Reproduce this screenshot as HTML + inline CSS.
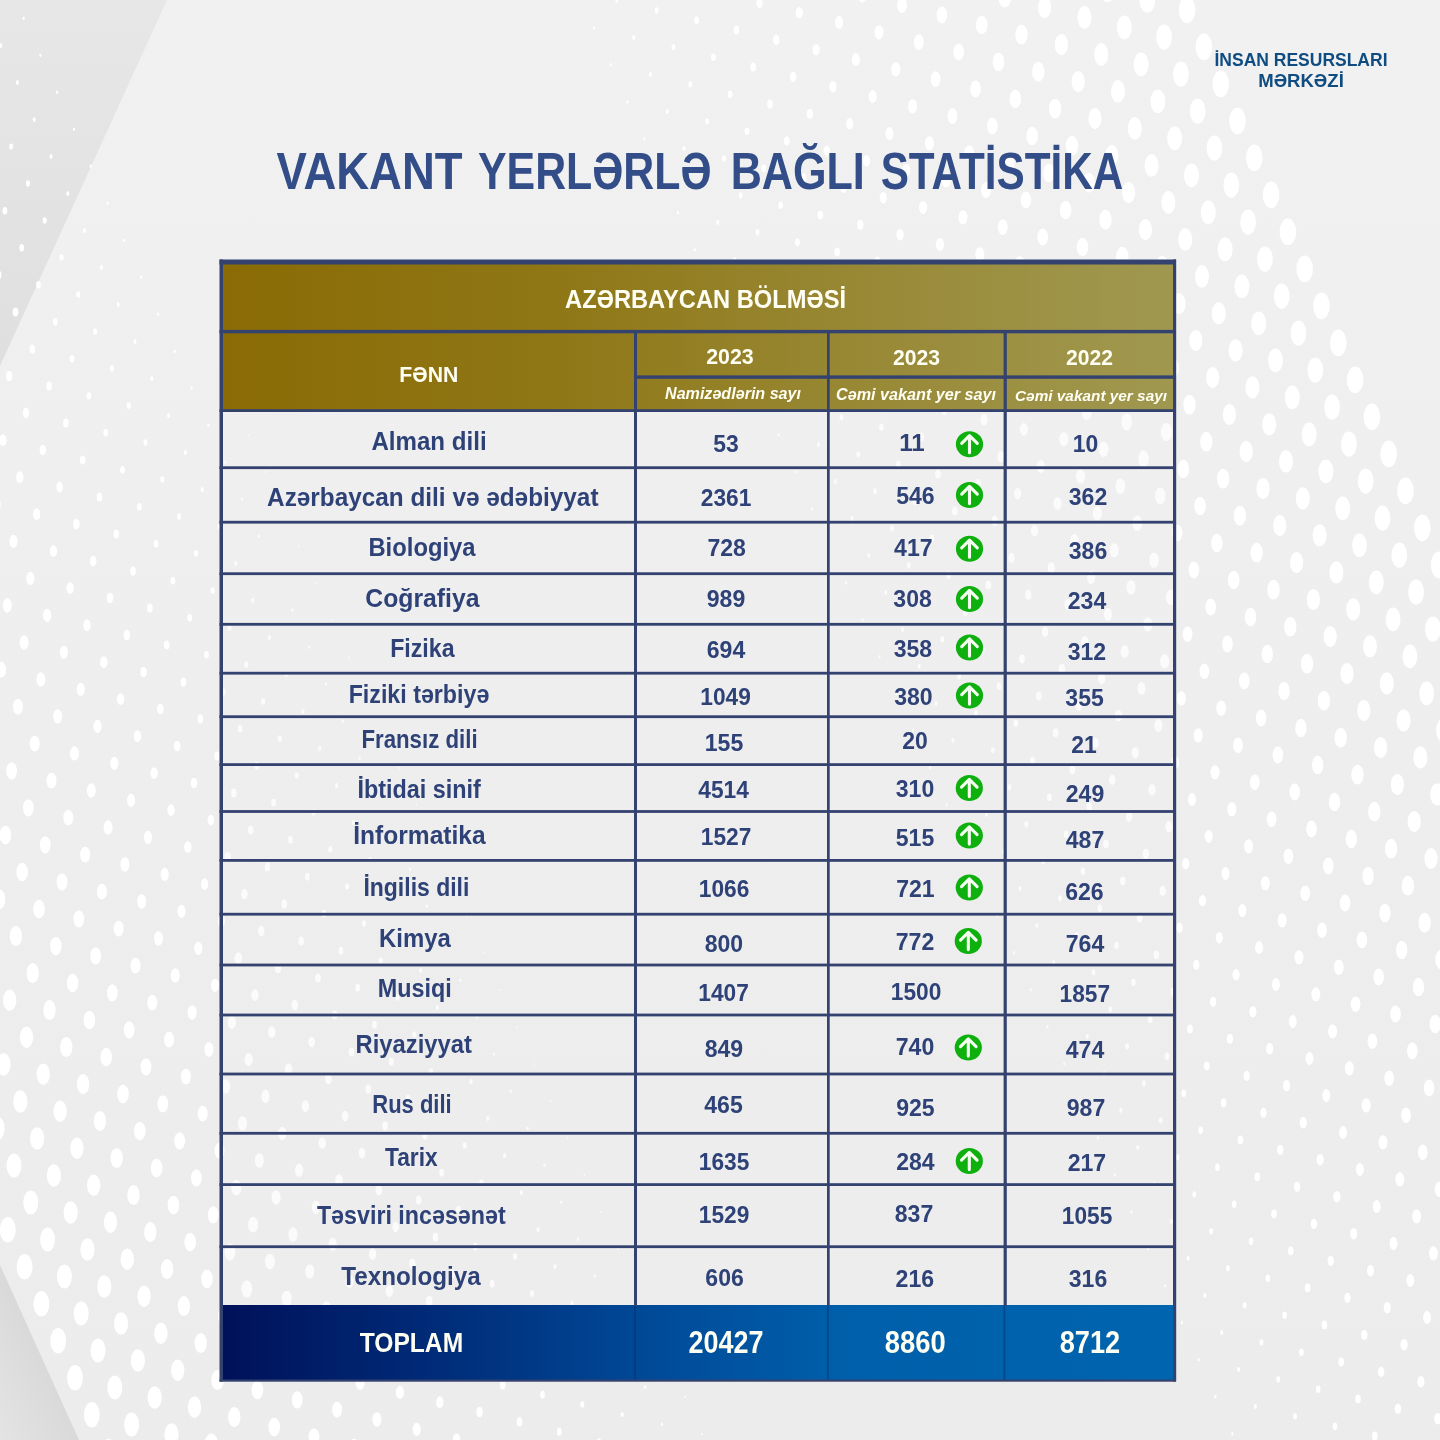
<!DOCTYPE html>
<html lang="az"><head><meta charset="utf-8"><title>Vakant yerlərlə bağlı statistika</title>
<style>
html,body{margin:0;padding:0;background:#eee;}
body{width:1440px;height:1440px;overflow:hidden;position:relative;font-family:"Liberation Sans",sans-serif;}
svg{position:absolute;left:0;top:0;display:block}
text{font-family:"Liberation Sans",sans-serif;font-weight:bold}
.s{font-size:26px;fill:#2e4278}
.n{font-size:24px;fill:#2e4278}
.w{fill:#fffef2}
.it{font-style:italic}
</style></head><body>
<svg width="1440" height="1440" viewBox="0 0 1440 1440">
<defs>
<linearGradient id="gold" gradientUnits="userSpaceOnUse" x1="222" y1="0" x2="1174" y2="0">
<stop offset="0" stop-color="#8a6b05"/><stop offset="0.35" stop-color="#8f7716"/><stop offset="0.7" stop-color="#998a38"/><stop offset="1" stop-color="#a09850"/>
</linearGradient>
<linearGradient id="blue" gradientUnits="userSpaceOnUse" x1="222" y1="0" x2="1174" y2="0">
<stop offset="0" stop-color="#00115a"/><stop offset="0.25" stop-color="#002f7c"/><stop offset="0.45" stop-color="#004a98"/><stop offset="0.65" stop-color="#005faa"/><stop offset="1" stop-color="#0064ae"/>
</linearGradient>
<linearGradient id="bg" gradientUnits="userSpaceOnUse" x1="0" y1="0" x2="0" y2="1440">
<stop offset="0" stop-color="#f1f1f1"/><stop offset="0.5" stop-color="#eeeeee"/><stop offset="1" stop-color="#ececec"/>
</linearGradient>
<linearGradient id="tl" gradientUnits="userSpaceOnUse" x1="0" y1="0" x2="0" y2="366">
<stop offset="0" stop-color="#e7e7e7"/><stop offset="1" stop-color="#dfdfdf"/>
</linearGradient>
<linearGradient id="bl" gradientUnits="userSpaceOnUse" x1="40" y1="1352" x2="-28" y2="1383">
<stop offset="0" stop-color="#d9d9d9"/><stop offset="1" stop-color="#e4e4e4"/>
</linearGradient>
</defs>
<rect width="1440" height="1440" fill="url(#bg)"/>
<polygon points="0,0 167,0 0,366" fill="url(#tl)"/>
<g fill="#ffffff">
<ellipse cx="-9.0" cy="1192.8" rx="7.9" ry="12.7"/>
<ellipse cx="7.8" cy="1229.8" rx="7.9" ry="12.7"/>
<ellipse cx="24.6" cy="1266.8" rx="7.9" ry="12.7"/>
<ellipse cx="41.4" cy="1303.8" rx="7.9" ry="12.7"/>
<ellipse cx="58.2" cy="1340.8" rx="7.9" ry="12.7"/>
<ellipse cx="75.0" cy="1377.8" rx="7.9" ry="12.7"/>
<ellipse cx="91.8" cy="1414.8" rx="7.9" ry="12.7"/>
<ellipse cx="108.6" cy="1451.8" rx="7.9" ry="12.7"/>
<ellipse cx="-2.8" cy="1128.6" rx="7.5" ry="12.0"/>
<ellipse cx="14.0" cy="1165.6" rx="7.5" ry="12.0"/>
<ellipse cx="30.8" cy="1202.6" rx="7.5" ry="12.0"/>
<ellipse cx="47.6" cy="1239.6" rx="7.5" ry="12.0"/>
<ellipse cx="64.4" cy="1276.6" rx="7.5" ry="12.0"/>
<ellipse cx="81.2" cy="1313.6" rx="7.5" ry="12.0"/>
<ellipse cx="98.0" cy="1350.6" rx="7.5" ry="12.0"/>
<ellipse cx="114.8" cy="1387.6" rx="7.5" ry="12.0"/>
<ellipse cx="131.6" cy="1424.6" rx="7.5" ry="12.0"/>
<ellipse cx="3.5" cy="1064.5" rx="7.1" ry="11.3"/>
<ellipse cx="20.3" cy="1101.5" rx="7.1" ry="11.3"/>
<ellipse cx="37.1" cy="1138.5" rx="7.1" ry="11.3"/>
<ellipse cx="53.9" cy="1175.5" rx="7.1" ry="11.3"/>
<ellipse cx="70.7" cy="1212.5" rx="7.1" ry="11.3"/>
<ellipse cx="87.5" cy="1249.5" rx="7.1" ry="11.3"/>
<ellipse cx="104.3" cy="1286.5" rx="7.1" ry="11.3"/>
<ellipse cx="121.1" cy="1323.5" rx="7.1" ry="11.3"/>
<ellipse cx="137.9" cy="1360.5" rx="7.1" ry="11.3"/>
<ellipse cx="154.7" cy="1397.5" rx="7.1" ry="11.3"/>
<ellipse cx="171.5" cy="1434.5" rx="7.1" ry="11.3"/>
<ellipse cx="-7.1" cy="963.3" rx="6.7" ry="10.7"/>
<ellipse cx="9.7" cy="1000.3" rx="6.7" ry="10.7"/>
<ellipse cx="26.5" cy="1037.3" rx="6.7" ry="10.7"/>
<ellipse cx="43.3" cy="1074.3" rx="6.7" ry="10.7"/>
<ellipse cx="60.1" cy="1111.3" rx="6.7" ry="10.7"/>
<ellipse cx="76.9" cy="1148.3" rx="6.7" ry="10.7"/>
<ellipse cx="93.7" cy="1185.3" rx="6.7" ry="10.7"/>
<ellipse cx="110.5" cy="1222.3" rx="6.7" ry="10.7"/>
<ellipse cx="127.3" cy="1259.3" rx="6.7" ry="10.7"/>
<ellipse cx="144.1" cy="1296.3" rx="6.7" ry="10.7"/>
<ellipse cx="160.9" cy="1333.3" rx="6.7" ry="10.7"/>
<ellipse cx="177.7" cy="1370.3" rx="6.7" ry="10.7"/>
<ellipse cx="194.5" cy="1407.3" rx="6.7" ry="10.7"/>
<ellipse cx="211.3" cy="1444.3" rx="6.7" ry="10.7"/>
<ellipse cx="-0.9" cy="899.1" rx="6.2" ry="10.0"/>
<ellipse cx="15.9" cy="936.1" rx="6.2" ry="10.0"/>
<ellipse cx="32.7" cy="973.1" rx="6.2" ry="10.0"/>
<ellipse cx="49.5" cy="1010.1" rx="6.2" ry="10.0"/>
<ellipse cx="66.3" cy="1047.1" rx="6.2" ry="10.0"/>
<ellipse cx="83.1" cy="1084.1" rx="6.2" ry="10.0"/>
<ellipse cx="99.9" cy="1121.1" rx="6.2" ry="10.0"/>
<ellipse cx="116.7" cy="1158.1" rx="6.2" ry="10.0"/>
<ellipse cx="133.5" cy="1195.1" rx="6.2" ry="10.0"/>
<ellipse cx="150.3" cy="1232.1" rx="6.2" ry="10.0"/>
<ellipse cx="167.1" cy="1269.1" rx="6.2" ry="10.0"/>
<ellipse cx="183.9" cy="1306.1" rx="6.2" ry="10.0"/>
<ellipse cx="200.7" cy="1343.1" rx="6.2" ry="10.0"/>
<ellipse cx="217.5" cy="1380.1" rx="6.2" ry="10.0"/>
<ellipse cx="234.3" cy="1417.1" rx="6.2" ry="10.0"/>
<ellipse cx="-11.4" cy="798.0" rx="5.8" ry="9.3"/>
<ellipse cx="5.4" cy="835.0" rx="5.8" ry="9.3"/>
<ellipse cx="22.2" cy="872.0" rx="5.8" ry="9.3"/>
<ellipse cx="39.0" cy="909.0" rx="5.8" ry="9.3"/>
<ellipse cx="55.8" cy="946.0" rx="5.8" ry="9.3"/>
<ellipse cx="72.6" cy="983.0" rx="5.8" ry="9.3"/>
<ellipse cx="89.4" cy="1020.0" rx="5.8" ry="9.3"/>
<ellipse cx="106.2" cy="1057.0" rx="5.8" ry="9.3"/>
<ellipse cx="123.0" cy="1094.0" rx="5.8" ry="9.3"/>
<ellipse cx="139.8" cy="1131.0" rx="5.8" ry="9.3"/>
<ellipse cx="156.6" cy="1168.0" rx="5.8" ry="9.3"/>
<ellipse cx="173.4" cy="1205.0" rx="5.8" ry="9.3"/>
<ellipse cx="190.2" cy="1242.0" rx="5.8" ry="9.3"/>
<ellipse cx="207.0" cy="1279.0" rx="5.8" ry="9.3"/>
<ellipse cx="223.8" cy="1316.0" rx="5.8" ry="9.3"/>
<ellipse cx="240.6" cy="1353.0" rx="5.8" ry="9.3"/>
<ellipse cx="257.4" cy="1390.0" rx="5.8" ry="9.3"/>
<ellipse cx="274.2" cy="1427.0" rx="5.8" ry="9.3"/>
<ellipse cx="-5.2" cy="733.8" rx="5.4" ry="8.6"/>
<ellipse cx="11.6" cy="770.8" rx="5.4" ry="8.6"/>
<ellipse cx="28.4" cy="807.8" rx="5.4" ry="8.6"/>
<ellipse cx="45.2" cy="844.8" rx="5.4" ry="8.6"/>
<ellipse cx="62.0" cy="881.8" rx="5.4" ry="8.6"/>
<ellipse cx="78.8" cy="918.8" rx="5.4" ry="8.6"/>
<ellipse cx="95.6" cy="955.8" rx="5.4" ry="8.6"/>
<ellipse cx="112.4" cy="992.8" rx="5.4" ry="8.6"/>
<ellipse cx="129.2" cy="1029.8" rx="5.4" ry="8.6"/>
<ellipse cx="146.0" cy="1066.8" rx="5.4" ry="8.6"/>
<ellipse cx="162.8" cy="1103.8" rx="5.4" ry="8.6"/>
<ellipse cx="179.6" cy="1140.8" rx="5.4" ry="8.6"/>
<ellipse cx="196.4" cy="1177.8" rx="5.4" ry="8.6"/>
<ellipse cx="213.2" cy="1214.8" rx="5.4" ry="8.6"/>
<ellipse cx="230.0" cy="1251.8" rx="5.4" ry="8.6"/>
<ellipse cx="246.8" cy="1288.8" rx="5.4" ry="8.6"/>
<ellipse cx="263.6" cy="1325.8" rx="5.4" ry="8.6"/>
<ellipse cx="280.4" cy="1362.8" rx="5.4" ry="8.6"/>
<ellipse cx="297.2" cy="1399.8" rx="5.4" ry="8.6"/>
<ellipse cx="314.0" cy="1436.8" rx="5.4" ry="8.6"/>
<ellipse cx="1.1" cy="669.7" rx="5.0" ry="7.9"/>
<ellipse cx="17.9" cy="706.7" rx="5.0" ry="7.9"/>
<ellipse cx="34.7" cy="743.7" rx="5.0" ry="7.9"/>
<ellipse cx="51.5" cy="780.7" rx="5.0" ry="7.9"/>
<ellipse cx="68.3" cy="817.7" rx="5.0" ry="7.9"/>
<ellipse cx="85.1" cy="854.7" rx="5.0" ry="7.9"/>
<ellipse cx="101.9" cy="891.7" rx="5.0" ry="7.9"/>
<ellipse cx="118.7" cy="928.7" rx="5.0" ry="7.9"/>
<ellipse cx="135.5" cy="965.7" rx="5.0" ry="7.9"/>
<ellipse cx="152.3" cy="1002.7" rx="5.0" ry="7.9"/>
<ellipse cx="169.1" cy="1039.7" rx="5.0" ry="7.9"/>
<ellipse cx="185.9" cy="1076.7" rx="5.0" ry="7.9"/>
<ellipse cx="202.7" cy="1113.7" rx="5.0" ry="7.9"/>
<ellipse cx="219.5" cy="1150.7" rx="5.0" ry="7.9"/>
<ellipse cx="236.3" cy="1187.7" rx="5.0" ry="7.9"/>
<ellipse cx="253.1" cy="1224.7" rx="5.0" ry="7.9"/>
<ellipse cx="269.9" cy="1261.7" rx="5.0" ry="7.9"/>
<ellipse cx="286.7" cy="1298.7" rx="5.0" ry="7.9"/>
<ellipse cx="303.5" cy="1335.7" rx="5.0" ry="7.9"/>
<ellipse cx="320.3" cy="1372.7" rx="5.0" ry="7.9"/>
<ellipse cx="337.1" cy="1409.7" rx="5.0" ry="8.0"/>
<ellipse cx="353.9" cy="1446.7" rx="5.0" ry="8.0"/>
<ellipse cx="-9.5" cy="568.5" rx="4.5" ry="7.2"/>
<ellipse cx="7.3" cy="605.5" rx="4.5" ry="7.2"/>
<ellipse cx="24.1" cy="642.5" rx="4.5" ry="7.2"/>
<ellipse cx="40.9" cy="679.5" rx="4.5" ry="7.2"/>
<ellipse cx="57.7" cy="716.5" rx="4.5" ry="7.2"/>
<ellipse cx="74.5" cy="753.5" rx="4.5" ry="7.2"/>
<ellipse cx="91.3" cy="790.5" rx="4.5" ry="7.2"/>
<ellipse cx="108.1" cy="827.5" rx="4.5" ry="7.2"/>
<ellipse cx="124.9" cy="864.5" rx="4.5" ry="7.3"/>
<ellipse cx="141.7" cy="901.5" rx="4.5" ry="7.3"/>
<ellipse cx="158.5" cy="938.5" rx="4.5" ry="7.3"/>
<ellipse cx="175.3" cy="975.5" rx="4.5" ry="7.3"/>
<ellipse cx="192.1" cy="1012.5" rx="4.5" ry="7.3"/>
<ellipse cx="208.9" cy="1049.5" rx="4.5" ry="7.3"/>
<ellipse cx="225.7" cy="1086.5" rx="4.5" ry="7.3"/>
<ellipse cx="242.5" cy="1123.5" rx="4.5" ry="7.3"/>
<ellipse cx="259.3" cy="1160.5" rx="4.5" ry="7.3"/>
<ellipse cx="276.1" cy="1197.5" rx="4.5" ry="7.3"/>
<ellipse cx="292.9" cy="1234.5" rx="4.5" ry="7.3"/>
<ellipse cx="309.7" cy="1271.5" rx="4.5" ry="7.3"/>
<ellipse cx="326.5" cy="1308.5" rx="4.5" ry="7.3"/>
<ellipse cx="343.3" cy="1345.5" rx="4.5" ry="7.3"/>
<ellipse cx="360.1" cy="1382.5" rx="4.5" ry="7.3"/>
<ellipse cx="376.9" cy="1419.5" rx="4.5" ry="7.3"/>
<ellipse cx="-3.3" cy="504.3" rx="4.1" ry="6.6"/>
<ellipse cx="13.5" cy="541.3" rx="4.1" ry="6.6"/>
<ellipse cx="30.3" cy="578.3" rx="4.1" ry="6.6"/>
<ellipse cx="47.1" cy="615.3" rx="4.1" ry="6.6"/>
<ellipse cx="63.9" cy="652.3" rx="4.1" ry="6.6"/>
<ellipse cx="80.7" cy="689.3" rx="4.1" ry="6.6"/>
<ellipse cx="97.5" cy="726.3" rx="4.1" ry="6.6"/>
<ellipse cx="114.3" cy="763.3" rx="4.1" ry="6.6"/>
<ellipse cx="131.1" cy="800.3" rx="4.1" ry="6.6"/>
<ellipse cx="147.9" cy="837.3" rx="4.1" ry="6.6"/>
<ellipse cx="164.7" cy="874.3" rx="4.1" ry="6.6"/>
<ellipse cx="181.5" cy="911.3" rx="4.1" ry="6.6"/>
<ellipse cx="198.3" cy="948.3" rx="4.1" ry="6.6"/>
<ellipse cx="215.1" cy="985.3" rx="4.1" ry="6.6"/>
<ellipse cx="231.9" cy="1022.3" rx="4.1" ry="6.6"/>
<ellipse cx="248.7" cy="1059.3" rx="4.1" ry="6.6"/>
<ellipse cx="265.5" cy="1096.3" rx="4.1" ry="6.6"/>
<ellipse cx="282.3" cy="1133.3" rx="4.1" ry="6.6"/>
<ellipse cx="299.1" cy="1170.3" rx="4.1" ry="6.6"/>
<ellipse cx="315.9" cy="1207.3" rx="4.1" ry="6.6"/>
<ellipse cx="332.7" cy="1244.3" rx="4.1" ry="6.6"/>
<ellipse cx="349.5" cy="1281.3" rx="4.1" ry="6.6"/>
<ellipse cx="366.3" cy="1318.3" rx="4.1" ry="6.6"/>
<ellipse cx="383.1" cy="1355.3" rx="4.1" ry="6.6"/>
<ellipse cx="399.9" cy="1392.3" rx="4.1" ry="6.6"/>
<ellipse cx="416.7" cy="1429.3" rx="4.1" ry="6.6"/>
<ellipse cx="3.0" cy="440.2" rx="3.7" ry="5.9"/>
<ellipse cx="19.8" cy="477.2" rx="3.7" ry="5.9"/>
<ellipse cx="36.6" cy="514.2" rx="3.7" ry="5.9"/>
<ellipse cx="53.4" cy="551.2" rx="3.7" ry="5.9"/>
<ellipse cx="70.2" cy="588.2" rx="3.7" ry="5.9"/>
<ellipse cx="87.0" cy="625.2" rx="3.7" ry="5.9"/>
<ellipse cx="103.8" cy="662.2" rx="3.7" ry="5.9"/>
<ellipse cx="120.6" cy="699.2" rx="3.7" ry="5.9"/>
<ellipse cx="137.4" cy="736.2" rx="3.7" ry="5.9"/>
<ellipse cx="154.2" cy="773.2" rx="3.7" ry="5.9"/>
<ellipse cx="171.0" cy="810.2" rx="3.7" ry="5.9"/>
<ellipse cx="187.8" cy="847.2" rx="3.7" ry="5.9"/>
<ellipse cx="204.6" cy="884.2" rx="3.7" ry="5.9"/>
<ellipse cx="221.4" cy="921.2" rx="3.7" ry="5.9"/>
<ellipse cx="238.2" cy="958.2" rx="3.7" ry="5.9"/>
<ellipse cx="255.0" cy="995.2" rx="3.7" ry="5.9"/>
<ellipse cx="271.8" cy="1032.2" rx="3.7" ry="5.9"/>
<ellipse cx="288.6" cy="1069.2" rx="3.7" ry="5.9"/>
<ellipse cx="305.4" cy="1106.2" rx="3.7" ry="5.9"/>
<ellipse cx="322.2" cy="1143.2" rx="3.7" ry="5.9"/>
<ellipse cx="339.0" cy="1180.2" rx="3.7" ry="5.9"/>
<ellipse cx="355.8" cy="1217.2" rx="3.7" ry="5.9"/>
<ellipse cx="372.6" cy="1254.2" rx="3.7" ry="5.9"/>
<ellipse cx="389.4" cy="1291.2" rx="3.7" ry="5.9"/>
<ellipse cx="406.2" cy="1328.2" rx="3.7" ry="5.9"/>
<ellipse cx="423.0" cy="1365.2" rx="3.7" ry="5.9"/>
<ellipse cx="439.8" cy="1402.2" rx="3.7" ry="5.9"/>
<ellipse cx="456.6" cy="1439.2" rx="3.7" ry="5.9"/>
<ellipse cx="-7.6" cy="339.0" rx="3.2" ry="5.2"/>
<ellipse cx="9.2" cy="376.0" rx="3.2" ry="5.2"/>
<ellipse cx="26.0" cy="413.0" rx="3.2" ry="5.2"/>
<ellipse cx="42.8" cy="450.0" rx="3.2" ry="5.2"/>
<ellipse cx="59.6" cy="487.0" rx="3.2" ry="5.2"/>
<ellipse cx="76.4" cy="524.0" rx="3.3" ry="5.2"/>
<ellipse cx="93.2" cy="561.0" rx="3.3" ry="5.2"/>
<ellipse cx="110.0" cy="598.0" rx="3.3" ry="5.2"/>
<ellipse cx="126.8" cy="635.0" rx="3.3" ry="5.2"/>
<ellipse cx="143.6" cy="672.0" rx="3.3" ry="5.2"/>
<ellipse cx="160.4" cy="709.0" rx="3.3" ry="5.2"/>
<ellipse cx="177.2" cy="746.0" rx="3.3" ry="5.2"/>
<ellipse cx="194.0" cy="783.0" rx="3.3" ry="5.2"/>
<ellipse cx="210.8" cy="820.0" rx="3.3" ry="5.2"/>
<ellipse cx="227.6" cy="857.0" rx="3.3" ry="5.2"/>
<ellipse cx="244.4" cy="894.0" rx="3.3" ry="5.2"/>
<ellipse cx="261.2" cy="931.0" rx="3.3" ry="5.2"/>
<ellipse cx="278.0" cy="968.0" rx="3.3" ry="5.2"/>
<ellipse cx="294.8" cy="1005.0" rx="3.3" ry="5.2"/>
<ellipse cx="311.6" cy="1042.0" rx="3.3" ry="5.2"/>
<ellipse cx="328.4" cy="1079.0" rx="3.3" ry="5.2"/>
<ellipse cx="345.2" cy="1116.0" rx="3.3" ry="5.2"/>
<ellipse cx="362.0" cy="1153.0" rx="3.3" ry="5.2"/>
<ellipse cx="378.8" cy="1190.0" rx="3.3" ry="5.2"/>
<ellipse cx="395.6" cy="1227.0" rx="3.3" ry="5.2"/>
<ellipse cx="412.4" cy="1264.0" rx="3.3" ry="5.2"/>
<ellipse cx="429.2" cy="1301.0" rx="3.3" ry="5.2"/>
<ellipse cx="446.0" cy="1338.0" rx="3.3" ry="5.2"/>
<ellipse cx="462.8" cy="1375.0" rx="3.3" ry="5.2"/>
<ellipse cx="479.6" cy="1412.0" rx="3.3" ry="5.2"/>
<ellipse cx="496.4" cy="1449.0" rx="3.3" ry="5.2"/>
<ellipse cx="-1.3" cy="274.9" rx="2.8" ry="4.5"/>
<ellipse cx="15.5" cy="311.9" rx="2.8" ry="4.5"/>
<ellipse cx="32.3" cy="348.9" rx="2.8" ry="4.5"/>
<ellipse cx="49.1" cy="385.9" rx="2.8" ry="4.5"/>
<ellipse cx="65.9" cy="422.9" rx="2.8" ry="4.5"/>
<ellipse cx="82.7" cy="459.9" rx="2.8" ry="4.5"/>
<ellipse cx="99.5" cy="496.9" rx="2.8" ry="4.5"/>
<ellipse cx="116.3" cy="533.9" rx="2.8" ry="4.5"/>
<ellipse cx="133.1" cy="570.9" rx="2.8" ry="4.5"/>
<ellipse cx="149.9" cy="607.9" rx="2.8" ry="4.5"/>
<ellipse cx="166.7" cy="644.9" rx="2.8" ry="4.5"/>
<ellipse cx="183.5" cy="681.9" rx="2.8" ry="4.5"/>
<ellipse cx="200.3" cy="718.9" rx="2.8" ry="4.5"/>
<ellipse cx="217.1" cy="755.9" rx="2.8" ry="4.5"/>
<ellipse cx="233.9" cy="792.9" rx="2.8" ry="4.5"/>
<ellipse cx="250.7" cy="829.9" rx="2.8" ry="4.5"/>
<ellipse cx="267.5" cy="866.9" rx="2.8" ry="4.5"/>
<ellipse cx="284.3" cy="903.9" rx="2.8" ry="4.5"/>
<ellipse cx="301.1" cy="940.9" rx="2.8" ry="4.5"/>
<ellipse cx="317.9" cy="977.9" rx="2.8" ry="4.5"/>
<ellipse cx="334.7" cy="1014.9" rx="2.8" ry="4.5"/>
<ellipse cx="351.5" cy="1051.9" rx="2.8" ry="4.5"/>
<ellipse cx="368.3" cy="1088.9" rx="2.8" ry="4.5"/>
<ellipse cx="385.1" cy="1125.9" rx="2.8" ry="4.5"/>
<ellipse cx="401.9" cy="1162.9" rx="2.8" ry="4.5"/>
<ellipse cx="418.7" cy="1199.9" rx="2.8" ry="4.5"/>
<ellipse cx="435.5" cy="1236.9" rx="2.8" ry="4.5"/>
<ellipse cx="452.3" cy="1273.9" rx="2.8" ry="4.5"/>
<ellipse cx="469.1" cy="1310.9" rx="2.8" ry="4.6"/>
<ellipse cx="485.9" cy="1347.9" rx="2.8" ry="4.6"/>
<ellipse cx="502.7" cy="1384.9" rx="2.8" ry="4.6"/>
<ellipse cx="519.5" cy="1421.9" rx="2.8" ry="4.6"/>
<ellipse cx="-11.9" cy="173.7" rx="2.4" ry="3.8"/>
<ellipse cx="4.9" cy="210.7" rx="2.4" ry="3.8"/>
<ellipse cx="21.7" cy="247.7" rx="2.4" ry="3.8"/>
<ellipse cx="38.5" cy="284.7" rx="2.4" ry="3.8"/>
<ellipse cx="55.3" cy="321.7" rx="2.4" ry="3.8"/>
<ellipse cx="72.1" cy="358.7" rx="2.4" ry="3.8"/>
<ellipse cx="88.9" cy="395.7" rx="2.4" ry="3.8"/>
<ellipse cx="105.7" cy="432.7" rx="2.4" ry="3.8"/>
<ellipse cx="122.5" cy="469.7" rx="2.4" ry="3.8"/>
<ellipse cx="139.3" cy="506.7" rx="2.4" ry="3.8"/>
<ellipse cx="156.1" cy="543.7" rx="2.4" ry="3.8"/>
<ellipse cx="172.9" cy="580.7" rx="2.4" ry="3.8"/>
<ellipse cx="189.7" cy="617.7" rx="2.4" ry="3.8"/>
<ellipse cx="206.5" cy="654.7" rx="2.4" ry="3.8"/>
<ellipse cx="223.3" cy="691.7" rx="2.4" ry="3.8"/>
<ellipse cx="240.1" cy="728.7" rx="2.4" ry="3.8"/>
<ellipse cx="256.9" cy="765.7" rx="2.4" ry="3.9"/>
<ellipse cx="273.7" cy="802.7" rx="2.4" ry="3.9"/>
<ellipse cx="290.5" cy="839.7" rx="2.4" ry="3.9"/>
<ellipse cx="307.3" cy="876.7" rx="2.4" ry="3.9"/>
<ellipse cx="324.1" cy="913.7" rx="2.4" ry="3.9"/>
<ellipse cx="340.9" cy="950.7" rx="2.4" ry="3.9"/>
<ellipse cx="357.7" cy="987.7" rx="2.4" ry="3.9"/>
<ellipse cx="374.5" cy="1024.7" rx="2.4" ry="3.9"/>
<ellipse cx="391.3" cy="1061.7" rx="2.4" ry="3.9"/>
<ellipse cx="408.1" cy="1098.7" rx="2.4" ry="3.9"/>
<ellipse cx="424.9" cy="1135.7" rx="2.4" ry="3.9"/>
<ellipse cx="441.7" cy="1172.7" rx="2.4" ry="3.9"/>
<ellipse cx="458.5" cy="1209.7" rx="2.4" ry="3.9"/>
<ellipse cx="475.3" cy="1246.7" rx="2.4" ry="3.9"/>
<ellipse cx="492.1" cy="1283.7" rx="2.4" ry="3.9"/>
<ellipse cx="508.9" cy="1320.7" rx="2.4" ry="3.9"/>
<ellipse cx="525.7" cy="1357.7" rx="2.4" ry="3.9"/>
<ellipse cx="542.5" cy="1394.7" rx="2.4" ry="3.9"/>
<ellipse cx="559.3" cy="1431.7" rx="2.4" ry="3.9"/>
<ellipse cx="-5.7" cy="109.5" rx="2.0" ry="3.1"/>
<ellipse cx="11.1" cy="146.5" rx="2.0" ry="3.1"/>
<ellipse cx="27.9" cy="183.5" rx="2.0" ry="3.2"/>
<ellipse cx="44.7" cy="220.5" rx="2.0" ry="3.2"/>
<ellipse cx="61.5" cy="257.5" rx="2.0" ry="3.2"/>
<ellipse cx="78.3" cy="294.5" rx="2.0" ry="3.2"/>
<ellipse cx="95.1" cy="331.5" rx="2.0" ry="3.2"/>
<ellipse cx="111.9" cy="368.5" rx="2.0" ry="3.2"/>
<ellipse cx="128.7" cy="405.5" rx="2.0" ry="3.2"/>
<ellipse cx="145.5" cy="442.5" rx="2.0" ry="3.2"/>
<ellipse cx="162.3" cy="479.5" rx="2.0" ry="3.2"/>
<ellipse cx="179.1" cy="516.5" rx="2.0" ry="3.2"/>
<ellipse cx="195.9" cy="553.5" rx="2.0" ry="3.2"/>
<ellipse cx="212.7" cy="590.5" rx="2.0" ry="3.2"/>
<ellipse cx="229.5" cy="627.5" rx="2.0" ry="3.2"/>
<ellipse cx="246.3" cy="664.5" rx="2.0" ry="3.2"/>
<ellipse cx="263.1" cy="701.5" rx="2.0" ry="3.2"/>
<ellipse cx="279.9" cy="738.5" rx="2.0" ry="3.2"/>
<ellipse cx="296.7" cy="775.5" rx="2.0" ry="3.2"/>
<ellipse cx="313.5" cy="812.5" rx="2.0" ry="3.2"/>
<ellipse cx="330.3" cy="849.5" rx="2.0" ry="3.2"/>
<ellipse cx="347.1" cy="886.5" rx="2.0" ry="3.2"/>
<ellipse cx="363.9" cy="923.5" rx="2.0" ry="3.2"/>
<ellipse cx="380.7" cy="960.5" rx="2.0" ry="3.2"/>
<ellipse cx="397.5" cy="997.5" rx="2.0" ry="3.2"/>
<ellipse cx="414.3" cy="1034.5" rx="2.0" ry="3.2"/>
<ellipse cx="431.1" cy="1071.5" rx="2.0" ry="3.2"/>
<ellipse cx="447.9" cy="1108.5" rx="2.0" ry="3.2"/>
<ellipse cx="464.7" cy="1145.5" rx="2.0" ry="3.2"/>
<ellipse cx="481.5" cy="1182.5" rx="2.0" ry="3.2"/>
<ellipse cx="498.3" cy="1219.5" rx="2.0" ry="3.2"/>
<ellipse cx="515.1" cy="1256.5" rx="2.0" ry="3.2"/>
<ellipse cx="531.9" cy="1293.5" rx="2.0" ry="3.2"/>
<ellipse cx="548.7" cy="1330.5" rx="2.0" ry="3.2"/>
<ellipse cx="565.5" cy="1367.5" rx="2.0" ry="3.2"/>
<ellipse cx="582.3" cy="1404.5" rx="2.0" ry="3.2"/>
<ellipse cx="599.1" cy="1441.5" rx="2.0" ry="3.2"/>
<ellipse cx="0.6" cy="45.4" rx="1.5" ry="2.5"/>
<ellipse cx="17.4" cy="82.4" rx="1.5" ry="2.5"/>
<ellipse cx="34.2" cy="119.4" rx="1.5" ry="2.5"/>
<ellipse cx="51.0" cy="156.4" rx="1.5" ry="2.5"/>
<ellipse cx="67.8" cy="193.4" rx="1.5" ry="2.5"/>
<ellipse cx="84.6" cy="230.4" rx="1.5" ry="2.5"/>
<ellipse cx="101.4" cy="267.4" rx="1.5" ry="2.5"/>
<ellipse cx="118.2" cy="304.4" rx="1.5" ry="2.5"/>
<ellipse cx="135.0" cy="341.4" rx="1.5" ry="2.5"/>
<ellipse cx="151.8" cy="378.4" rx="1.5" ry="2.5"/>
<ellipse cx="168.6" cy="415.4" rx="1.5" ry="2.5"/>
<ellipse cx="185.4" cy="452.4" rx="1.6" ry="2.5"/>
<ellipse cx="202.2" cy="489.4" rx="1.6" ry="2.5"/>
<ellipse cx="219.0" cy="526.4" rx="1.6" ry="2.5"/>
<ellipse cx="235.8" cy="563.4" rx="1.6" ry="2.5"/>
<ellipse cx="252.6" cy="600.4" rx="1.6" ry="2.5"/>
<ellipse cx="269.4" cy="637.4" rx="1.6" ry="2.5"/>
<ellipse cx="286.2" cy="674.4" rx="1.6" ry="2.5"/>
<ellipse cx="303.0" cy="711.4" rx="1.6" ry="2.5"/>
<ellipse cx="319.8" cy="748.4" rx="1.6" ry="2.5"/>
<ellipse cx="336.6" cy="785.4" rx="1.6" ry="2.5"/>
<ellipse cx="353.4" cy="822.4" rx="1.6" ry="2.5"/>
<ellipse cx="370.2" cy="859.4" rx="1.6" ry="2.5"/>
<ellipse cx="387.0" cy="896.4" rx="1.6" ry="2.5"/>
<ellipse cx="403.8" cy="933.4" rx="1.6" ry="2.5"/>
<ellipse cx="420.6" cy="970.4" rx="1.6" ry="2.5"/>
<ellipse cx="437.4" cy="1007.4" rx="1.6" ry="2.5"/>
<ellipse cx="454.2" cy="1044.4" rx="1.6" ry="2.5"/>
<ellipse cx="471.0" cy="1081.4" rx="1.6" ry="2.5"/>
<ellipse cx="487.8" cy="1118.4" rx="1.6" ry="2.5"/>
<ellipse cx="504.6" cy="1155.4" rx="1.6" ry="2.5"/>
<ellipse cx="521.4" cy="1192.4" rx="1.6" ry="2.5"/>
<ellipse cx="538.2" cy="1229.4" rx="1.6" ry="2.5"/>
<ellipse cx="555.0" cy="1266.4" rx="1.6" ry="2.5"/>
<ellipse cx="571.8" cy="1303.4" rx="1.6" ry="2.5"/>
<ellipse cx="588.6" cy="1340.4" rx="1.6" ry="2.5"/>
<ellipse cx="605.4" cy="1377.4" rx="1.6" ry="2.5"/>
<ellipse cx="622.2" cy="1414.4" rx="1.6" ry="2.5"/>
<ellipse cx="639.0" cy="1451.4" rx="1.6" ry="2.5"/>
<ellipse cx="23.6" cy="18.2" rx="1.1" ry="1.8"/>
<ellipse cx="40.4" cy="55.2" rx="1.1" ry="1.8"/>
<ellipse cx="57.2" cy="92.2" rx="1.1" ry="1.8"/>
<ellipse cx="74.0" cy="129.2" rx="1.1" ry="1.8"/>
<ellipse cx="90.8" cy="166.2" rx="1.1" ry="1.8"/>
<ellipse cx="107.6" cy="203.2" rx="1.1" ry="1.8"/>
<ellipse cx="124.4" cy="240.2" rx="1.1" ry="1.8"/>
<ellipse cx="141.2" cy="277.2" rx="1.1" ry="1.8"/>
<ellipse cx="158.0" cy="314.2" rx="1.1" ry="1.8"/>
<ellipse cx="174.8" cy="351.2" rx="1.1" ry="1.8"/>
<ellipse cx="191.6" cy="388.2" rx="1.1" ry="1.8"/>
<ellipse cx="208.4" cy="425.2" rx="1.1" ry="1.8"/>
<ellipse cx="225.2" cy="462.2" rx="1.1" ry="1.8"/>
<ellipse cx="242.0" cy="499.2" rx="1.1" ry="1.8"/>
<ellipse cx="258.8" cy="536.2" rx="1.1" ry="1.8"/>
<ellipse cx="275.6" cy="573.2" rx="1.1" ry="1.8"/>
<ellipse cx="292.4" cy="610.2" rx="1.1" ry="1.8"/>
<ellipse cx="309.2" cy="647.2" rx="1.1" ry="1.8"/>
<ellipse cx="326.0" cy="684.2" rx="1.1" ry="1.8"/>
<ellipse cx="342.8" cy="721.2" rx="1.1" ry="1.8"/>
<ellipse cx="359.6" cy="758.2" rx="1.1" ry="1.8"/>
<ellipse cx="376.4" cy="795.2" rx="1.1" ry="1.8"/>
<ellipse cx="393.2" cy="832.2" rx="1.1" ry="1.8"/>
<ellipse cx="410.0" cy="869.2" rx="1.1" ry="1.8"/>
<ellipse cx="426.8" cy="906.2" rx="1.1" ry="1.8"/>
<ellipse cx="443.6" cy="943.2" rx="1.1" ry="1.8"/>
<ellipse cx="460.4" cy="980.2" rx="1.1" ry="1.8"/>
<ellipse cx="477.2" cy="1017.2" rx="1.1" ry="1.8"/>
<ellipse cx="494.0" cy="1054.2" rx="1.1" ry="1.8"/>
<ellipse cx="510.8" cy="1091.2" rx="1.1" ry="1.8"/>
<ellipse cx="527.6" cy="1128.2" rx="1.1" ry="1.8"/>
<ellipse cx="544.4" cy="1165.2" rx="1.1" ry="1.8"/>
<ellipse cx="561.2" cy="1202.2" rx="1.1" ry="1.8"/>
<ellipse cx="578.0" cy="1239.2" rx="1.1" ry="1.8"/>
<ellipse cx="594.8" cy="1276.2" rx="1.1" ry="1.8"/>
<ellipse cx="611.6" cy="1313.2" rx="1.1" ry="1.8"/>
<ellipse cx="628.4" cy="1350.2" rx="1.1" ry="1.8"/>
<ellipse cx="645.2" cy="1387.2" rx="1.1" ry="1.8"/>
<ellipse cx="662.0" cy="1424.2" rx="1.1" ry="1.8"/>
<ellipse cx="231.5" cy="398.1" rx="0.7" ry="1.1"/>
<ellipse cx="248.3" cy="435.1" rx="0.7" ry="1.1"/>
<ellipse cx="265.1" cy="472.1" rx="0.7" ry="1.1"/>
<ellipse cx="281.9" cy="509.1" rx="0.7" ry="1.1"/>
<ellipse cx="298.7" cy="546.1" rx="0.7" ry="1.1"/>
<ellipse cx="315.5" cy="583.1" rx="0.7" ry="1.1"/>
<ellipse cx="332.3" cy="620.1" rx="0.7" ry="1.1"/>
<ellipse cx="349.1" cy="657.1" rx="0.7" ry="1.1"/>
<ellipse cx="365.9" cy="694.1" rx="0.7" ry="1.1"/>
<ellipse cx="382.7" cy="731.1" rx="0.7" ry="1.1"/>
<ellipse cx="399.5" cy="768.1" rx="0.7" ry="1.1"/>
<ellipse cx="416.3" cy="805.1" rx="0.7" ry="1.1"/>
<ellipse cx="433.1" cy="842.1" rx="0.7" ry="1.1"/>
<ellipse cx="449.9" cy="879.1" rx="0.7" ry="1.1"/>
<ellipse cx="466.7" cy="916.1" rx="0.7" ry="1.1"/>
<ellipse cx="483.5" cy="953.1" rx="0.7" ry="1.1"/>
<ellipse cx="500.3" cy="990.1" rx="0.7" ry="1.1"/>
<ellipse cx="517.1" cy="1027.1" rx="0.7" ry="1.1"/>
<ellipse cx="533.9" cy="1064.1" rx="0.7" ry="1.1"/>
<ellipse cx="550.7" cy="1101.1" rx="0.7" ry="1.1"/>
<ellipse cx="567.5" cy="1138.1" rx="0.7" ry="1.1"/>
<ellipse cx="584.3" cy="1175.1" rx="0.7" ry="1.2"/>
<ellipse cx="601.1" cy="1212.1" rx="0.7" ry="1.2"/>
<ellipse cx="617.9" cy="1249.1" rx="0.7" ry="1.2"/>
<ellipse cx="634.7" cy="1286.1" rx="0.7" ry="1.2"/>
<ellipse cx="651.5" cy="1323.1" rx="0.7" ry="1.2"/>
<ellipse cx="668.3" cy="1360.1" rx="0.7" ry="1.2"/>
<ellipse cx="685.1" cy="1397.1" rx="0.7" ry="1.2"/>
<ellipse cx="701.9" cy="1434.1" rx="0.7" ry="1.2"/>
<ellipse cx="577.1" cy="-9.3" rx="1.1" ry="1.8"/>
<ellipse cx="593.9" cy="27.7" rx="1.1" ry="1.8"/>
<ellipse cx="610.7" cy="64.7" rx="1.1" ry="1.8"/>
<ellipse cx="627.5" cy="101.7" rx="1.1" ry="1.7"/>
<ellipse cx="644.3" cy="138.7" rx="1.1" ry="1.7"/>
<ellipse cx="661.1" cy="175.7" rx="1.1" ry="1.7"/>
<ellipse cx="677.9" cy="212.7" rx="1.1" ry="1.7"/>
<ellipse cx="694.7" cy="249.7" rx="1.1" ry="1.7"/>
<ellipse cx="711.5" cy="286.7" rx="1.1" ry="1.7"/>
<ellipse cx="728.3" cy="323.7" rx="1.1" ry="1.7"/>
<ellipse cx="745.1" cy="360.7" rx="1.1" ry="1.7"/>
<ellipse cx="761.9" cy="397.7" rx="1.1" ry="1.7"/>
<ellipse cx="778.7" cy="434.7" rx="1.1" ry="1.7"/>
<ellipse cx="795.5" cy="471.7" rx="1.1" ry="1.7"/>
<ellipse cx="812.3" cy="508.7" rx="1.1" ry="1.7"/>
<ellipse cx="829.1" cy="545.7" rx="1.1" ry="1.7"/>
<ellipse cx="845.9" cy="582.7" rx="1.1" ry="1.7"/>
<ellipse cx="862.7" cy="619.7" rx="1.1" ry="1.7"/>
<ellipse cx="879.5" cy="656.7" rx="1.1" ry="1.7"/>
<ellipse cx="896.3" cy="693.7" rx="1.1" ry="1.7"/>
<ellipse cx="913.1" cy="730.7" rx="1.1" ry="1.7"/>
<ellipse cx="929.9" cy="767.7" rx="1.1" ry="1.7"/>
<ellipse cx="946.7" cy="804.7" rx="1.1" ry="1.7"/>
<ellipse cx="963.5" cy="841.7" rx="1.1" ry="1.7"/>
<ellipse cx="980.3" cy="878.7" rx="1.1" ry="1.7"/>
<ellipse cx="997.1" cy="915.7" rx="1.1" ry="1.7"/>
<ellipse cx="1013.9" cy="952.7" rx="1.1" ry="1.7"/>
<ellipse cx="1030.7" cy="989.7" rx="1.1" ry="1.7"/>
<ellipse cx="1047.5" cy="1026.7" rx="1.1" ry="1.7"/>
<ellipse cx="1064.3" cy="1063.7" rx="1.1" ry="1.7"/>
<ellipse cx="1081.1" cy="1100.7" rx="1.1" ry="1.7"/>
<ellipse cx="1097.9" cy="1137.7" rx="1.1" ry="1.7"/>
<ellipse cx="1114.7" cy="1174.7" rx="1.1" ry="1.7"/>
<ellipse cx="1131.5" cy="1211.7" rx="1.1" ry="1.7"/>
<ellipse cx="1148.3" cy="1248.7" rx="1.1" ry="1.7"/>
<ellipse cx="1165.1" cy="1285.7" rx="1.1" ry="1.7"/>
<ellipse cx="1181.9" cy="1322.7" rx="1.1" ry="1.7"/>
<ellipse cx="1198.7" cy="1359.7" rx="1.1" ry="1.7"/>
<ellipse cx="1215.5" cy="1396.7" rx="1.1" ry="1.7"/>
<ellipse cx="1232.3" cy="1433.7" rx="1.1" ry="1.7"/>
<ellipse cx="616.9" cy="0.5" rx="1.5" ry="2.4"/>
<ellipse cx="633.7" cy="37.5" rx="1.5" ry="2.4"/>
<ellipse cx="650.5" cy="74.5" rx="1.5" ry="2.4"/>
<ellipse cx="667.3" cy="111.5" rx="1.5" ry="2.4"/>
<ellipse cx="684.1" cy="148.5" rx="1.5" ry="2.4"/>
<ellipse cx="700.9" cy="185.5" rx="1.5" ry="2.4"/>
<ellipse cx="717.7" cy="222.5" rx="1.5" ry="2.4"/>
<ellipse cx="734.5" cy="259.5" rx="1.5" ry="2.4"/>
<ellipse cx="751.3" cy="296.5" rx="1.5" ry="2.4"/>
<ellipse cx="768.1" cy="333.5" rx="1.5" ry="2.4"/>
<ellipse cx="784.9" cy="370.5" rx="1.5" ry="2.4"/>
<ellipse cx="801.7" cy="407.5" rx="1.5" ry="2.4"/>
<ellipse cx="818.5" cy="444.5" rx="1.5" ry="2.4"/>
<ellipse cx="835.3" cy="481.5" rx="1.5" ry="2.4"/>
<ellipse cx="852.1" cy="518.5" rx="1.5" ry="2.4"/>
<ellipse cx="868.9" cy="555.5" rx="1.5" ry="2.4"/>
<ellipse cx="885.7" cy="592.5" rx="1.5" ry="2.4"/>
<ellipse cx="902.5" cy="629.5" rx="1.5" ry="2.4"/>
<ellipse cx="919.3" cy="666.5" rx="1.5" ry="2.4"/>
<ellipse cx="936.1" cy="703.5" rx="1.5" ry="2.4"/>
<ellipse cx="952.9" cy="740.5" rx="1.5" ry="2.4"/>
<ellipse cx="969.7" cy="777.5" rx="1.5" ry="2.4"/>
<ellipse cx="986.5" cy="814.5" rx="1.5" ry="2.4"/>
<ellipse cx="1003.3" cy="851.5" rx="1.5" ry="2.4"/>
<ellipse cx="1020.1" cy="888.5" rx="1.5" ry="2.4"/>
<ellipse cx="1036.9" cy="925.5" rx="1.5" ry="2.4"/>
<ellipse cx="1053.7" cy="962.5" rx="1.5" ry="2.4"/>
<ellipse cx="1070.5" cy="999.5" rx="1.5" ry="2.4"/>
<ellipse cx="1087.3" cy="1036.5" rx="1.5" ry="2.4"/>
<ellipse cx="1104.1" cy="1073.5" rx="1.5" ry="2.4"/>
<ellipse cx="1120.9" cy="1110.5" rx="1.5" ry="2.4"/>
<ellipse cx="1137.7" cy="1147.5" rx="1.5" ry="2.4"/>
<ellipse cx="1154.5" cy="1184.5" rx="1.5" ry="2.4"/>
<ellipse cx="1171.3" cy="1221.5" rx="1.5" ry="2.4"/>
<ellipse cx="1188.1" cy="1258.5" rx="1.5" ry="2.4"/>
<ellipse cx="1204.9" cy="1295.5" rx="1.5" ry="2.4"/>
<ellipse cx="1221.7" cy="1332.5" rx="1.5" ry="2.4"/>
<ellipse cx="1238.5" cy="1369.5" rx="1.5" ry="2.4"/>
<ellipse cx="1255.3" cy="1406.5" rx="1.5" ry="2.4"/>
<ellipse cx="1272.1" cy="1443.5" rx="1.5" ry="2.4"/>
<ellipse cx="656.7" cy="10.3" rx="1.9" ry="3.1"/>
<ellipse cx="673.5" cy="47.3" rx="1.9" ry="3.1"/>
<ellipse cx="690.3" cy="84.3" rx="1.9" ry="3.1"/>
<ellipse cx="707.1" cy="121.3" rx="1.9" ry="3.1"/>
<ellipse cx="723.9" cy="158.3" rx="1.9" ry="3.1"/>
<ellipse cx="740.7" cy="195.3" rx="1.9" ry="3.1"/>
<ellipse cx="757.5" cy="232.3" rx="1.9" ry="3.1"/>
<ellipse cx="774.3" cy="269.3" rx="1.9" ry="3.1"/>
<ellipse cx="791.1" cy="306.3" rx="1.9" ry="3.1"/>
<ellipse cx="807.9" cy="343.3" rx="1.9" ry="3.1"/>
<ellipse cx="824.7" cy="380.3" rx="1.9" ry="3.1"/>
<ellipse cx="841.5" cy="417.3" rx="1.9" ry="3.1"/>
<ellipse cx="858.3" cy="454.3" rx="1.9" ry="3.1"/>
<ellipse cx="875.1" cy="491.3" rx="1.9" ry="3.1"/>
<ellipse cx="891.9" cy="528.3" rx="1.9" ry="3.1"/>
<ellipse cx="908.7" cy="565.3" rx="1.9" ry="3.1"/>
<ellipse cx="925.5" cy="602.3" rx="1.9" ry="3.1"/>
<ellipse cx="942.3" cy="639.3" rx="1.9" ry="3.1"/>
<ellipse cx="959.1" cy="676.3" rx="1.9" ry="3.1"/>
<ellipse cx="975.9" cy="713.3" rx="1.9" ry="3.1"/>
<ellipse cx="992.7" cy="750.3" rx="1.9" ry="3.1"/>
<ellipse cx="1009.5" cy="787.3" rx="1.9" ry="3.1"/>
<ellipse cx="1026.3" cy="824.3" rx="1.9" ry="3.1"/>
<ellipse cx="1043.1" cy="861.3" rx="1.9" ry="3.1"/>
<ellipse cx="1059.9" cy="898.3" rx="1.9" ry="3.1"/>
<ellipse cx="1076.7" cy="935.3" rx="1.9" ry="3.1"/>
<ellipse cx="1093.5" cy="972.3" rx="1.9" ry="3.1"/>
<ellipse cx="1110.3" cy="1009.3" rx="1.9" ry="3.1"/>
<ellipse cx="1127.1" cy="1046.3" rx="1.9" ry="3.1"/>
<ellipse cx="1143.9" cy="1083.3" rx="1.9" ry="3.1"/>
<ellipse cx="1160.7" cy="1120.3" rx="1.9" ry="3.1"/>
<ellipse cx="1177.5" cy="1157.3" rx="1.9" ry="3.1"/>
<ellipse cx="1194.3" cy="1194.3" rx="1.9" ry="3.1"/>
<ellipse cx="1211.1" cy="1231.3" rx="1.9" ry="3.1"/>
<ellipse cx="1227.9" cy="1268.3" rx="1.9" ry="3.1"/>
<ellipse cx="1244.7" cy="1305.3" rx="1.9" ry="3.1"/>
<ellipse cx="1261.5" cy="1342.3" rx="1.9" ry="3.1"/>
<ellipse cx="1278.3" cy="1379.3" rx="1.9" ry="3.1"/>
<ellipse cx="1295.1" cy="1416.3" rx="1.9" ry="3.1"/>
<ellipse cx="1311.9" cy="1453.3" rx="1.9" ry="3.1"/>
<ellipse cx="696.6" cy="20.2" rx="2.4" ry="3.8"/>
<ellipse cx="713.4" cy="57.2" rx="2.4" ry="3.8"/>
<ellipse cx="730.2" cy="94.2" rx="2.4" ry="3.8"/>
<ellipse cx="747.0" cy="131.2" rx="2.4" ry="3.8"/>
<ellipse cx="763.8" cy="168.2" rx="2.4" ry="3.8"/>
<ellipse cx="780.6" cy="205.2" rx="2.4" ry="3.8"/>
<ellipse cx="797.4" cy="242.2" rx="2.4" ry="3.8"/>
<ellipse cx="814.2" cy="279.2" rx="2.4" ry="3.8"/>
<ellipse cx="831.0" cy="316.2" rx="2.4" ry="3.8"/>
<ellipse cx="847.8" cy="353.2" rx="2.4" ry="3.8"/>
<ellipse cx="864.6" cy="390.2" rx="2.4" ry="3.8"/>
<ellipse cx="881.4" cy="427.2" rx="2.4" ry="3.8"/>
<ellipse cx="898.2" cy="464.2" rx="2.4" ry="3.8"/>
<ellipse cx="915.0" cy="501.2" rx="2.4" ry="3.8"/>
<ellipse cx="931.8" cy="538.2" rx="2.4" ry="3.8"/>
<ellipse cx="948.6" cy="575.2" rx="2.4" ry="3.8"/>
<ellipse cx="965.4" cy="612.2" rx="2.4" ry="3.8"/>
<ellipse cx="982.2" cy="649.2" rx="2.4" ry="3.8"/>
<ellipse cx="999.0" cy="686.2" rx="2.4" ry="3.8"/>
<ellipse cx="1015.8" cy="723.2" rx="2.4" ry="3.8"/>
<ellipse cx="1032.6" cy="760.2" rx="2.4" ry="3.8"/>
<ellipse cx="1049.4" cy="797.2" rx="2.4" ry="3.8"/>
<ellipse cx="1066.2" cy="834.2" rx="2.3" ry="3.8"/>
<ellipse cx="1083.0" cy="871.2" rx="2.3" ry="3.8"/>
<ellipse cx="1099.8" cy="908.2" rx="2.3" ry="3.8"/>
<ellipse cx="1116.6" cy="945.2" rx="2.3" ry="3.8"/>
<ellipse cx="1133.4" cy="982.2" rx="2.3" ry="3.8"/>
<ellipse cx="1150.2" cy="1019.2" rx="2.3" ry="3.8"/>
<ellipse cx="1167.0" cy="1056.2" rx="2.3" ry="3.8"/>
<ellipse cx="1183.8" cy="1093.2" rx="2.3" ry="3.7"/>
<ellipse cx="1200.6" cy="1130.2" rx="2.3" ry="3.7"/>
<ellipse cx="1217.4" cy="1167.2" rx="2.3" ry="3.7"/>
<ellipse cx="1234.2" cy="1204.2" rx="2.3" ry="3.7"/>
<ellipse cx="1251.0" cy="1241.2" rx="2.3" ry="3.7"/>
<ellipse cx="1267.8" cy="1278.2" rx="2.3" ry="3.7"/>
<ellipse cx="1284.6" cy="1315.2" rx="2.3" ry="3.7"/>
<ellipse cx="1301.4" cy="1352.2" rx="2.3" ry="3.7"/>
<ellipse cx="1318.2" cy="1389.2" rx="2.3" ry="3.7"/>
<ellipse cx="1335.0" cy="1426.2" rx="2.3" ry="3.7"/>
<ellipse cx="719.6" cy="-7.0" rx="2.8" ry="4.5"/>
<ellipse cx="736.4" cy="30.0" rx="2.8" ry="4.5"/>
<ellipse cx="753.2" cy="67.0" rx="2.8" ry="4.5"/>
<ellipse cx="770.0" cy="104.0" rx="2.8" ry="4.5"/>
<ellipse cx="786.8" cy="141.0" rx="2.8" ry="4.5"/>
<ellipse cx="803.6" cy="178.0" rx="2.8" ry="4.5"/>
<ellipse cx="820.4" cy="215.0" rx="2.8" ry="4.5"/>
<ellipse cx="837.2" cy="252.0" rx="2.8" ry="4.5"/>
<ellipse cx="854.0" cy="289.0" rx="2.8" ry="4.5"/>
<ellipse cx="870.8" cy="326.0" rx="2.8" ry="4.5"/>
<ellipse cx="887.6" cy="363.0" rx="2.8" ry="4.5"/>
<ellipse cx="904.4" cy="400.0" rx="2.8" ry="4.5"/>
<ellipse cx="921.2" cy="437.0" rx="2.8" ry="4.5"/>
<ellipse cx="938.0" cy="474.0" rx="2.8" ry="4.5"/>
<ellipse cx="954.8" cy="511.0" rx="2.8" ry="4.5"/>
<ellipse cx="971.6" cy="548.0" rx="2.8" ry="4.4"/>
<ellipse cx="988.4" cy="585.0" rx="2.8" ry="4.4"/>
<ellipse cx="1005.2" cy="622.0" rx="2.8" ry="4.4"/>
<ellipse cx="1022.0" cy="659.0" rx="2.8" ry="4.4"/>
<ellipse cx="1038.8" cy="696.0" rx="2.8" ry="4.4"/>
<ellipse cx="1055.6" cy="733.0" rx="2.8" ry="4.4"/>
<ellipse cx="1072.4" cy="770.0" rx="2.8" ry="4.4"/>
<ellipse cx="1089.2" cy="807.0" rx="2.8" ry="4.4"/>
<ellipse cx="1106.0" cy="844.0" rx="2.8" ry="4.4"/>
<ellipse cx="1122.8" cy="881.0" rx="2.8" ry="4.4"/>
<ellipse cx="1139.6" cy="918.0" rx="2.8" ry="4.4"/>
<ellipse cx="1156.4" cy="955.0" rx="2.8" ry="4.4"/>
<ellipse cx="1173.2" cy="992.0" rx="2.8" ry="4.4"/>
<ellipse cx="1190.0" cy="1029.0" rx="2.8" ry="4.4"/>
<ellipse cx="1206.8" cy="1066.0" rx="2.8" ry="4.4"/>
<ellipse cx="1223.6" cy="1103.0" rx="2.8" ry="4.4"/>
<ellipse cx="1240.4" cy="1140.0" rx="2.8" ry="4.4"/>
<ellipse cx="1257.2" cy="1177.0" rx="2.8" ry="4.4"/>
<ellipse cx="1274.0" cy="1214.0" rx="2.8" ry="4.4"/>
<ellipse cx="1290.8" cy="1251.0" rx="2.8" ry="4.4"/>
<ellipse cx="1307.6" cy="1288.0" rx="2.8" ry="4.4"/>
<ellipse cx="1324.4" cy="1325.0" rx="2.8" ry="4.4"/>
<ellipse cx="1341.2" cy="1362.0" rx="2.8" ry="4.4"/>
<ellipse cx="1358.0" cy="1399.0" rx="2.8" ry="4.4"/>
<ellipse cx="1374.8" cy="1436.0" rx="2.8" ry="4.4"/>
<ellipse cx="759.5" cy="2.9" rx="3.2" ry="5.1"/>
<ellipse cx="776.3" cy="39.9" rx="3.2" ry="5.1"/>
<ellipse cx="793.1" cy="76.9" rx="3.2" ry="5.1"/>
<ellipse cx="809.9" cy="113.9" rx="3.2" ry="5.1"/>
<ellipse cx="826.7" cy="150.9" rx="3.2" ry="5.1"/>
<ellipse cx="843.5" cy="187.9" rx="3.2" ry="5.1"/>
<ellipse cx="860.3" cy="224.9" rx="3.2" ry="5.1"/>
<ellipse cx="877.1" cy="261.9" rx="3.2" ry="5.1"/>
<ellipse cx="893.9" cy="298.9" rx="3.2" ry="5.1"/>
<ellipse cx="910.7" cy="335.9" rx="3.2" ry="5.1"/>
<ellipse cx="927.5" cy="372.9" rx="3.2" ry="5.1"/>
<ellipse cx="944.3" cy="409.9" rx="3.2" ry="5.1"/>
<ellipse cx="961.1" cy="446.9" rx="3.2" ry="5.1"/>
<ellipse cx="977.9" cy="483.9" rx="3.2" ry="5.1"/>
<ellipse cx="994.7" cy="520.9" rx="3.2" ry="5.1"/>
<ellipse cx="1011.5" cy="557.9" rx="3.2" ry="5.1"/>
<ellipse cx="1028.3" cy="594.9" rx="3.2" ry="5.1"/>
<ellipse cx="1045.1" cy="631.9" rx="3.2" ry="5.1"/>
<ellipse cx="1061.9" cy="668.9" rx="3.2" ry="5.1"/>
<ellipse cx="1078.7" cy="705.9" rx="3.2" ry="5.1"/>
<ellipse cx="1095.5" cy="742.9" rx="3.2" ry="5.1"/>
<ellipse cx="1112.3" cy="779.9" rx="3.2" ry="5.1"/>
<ellipse cx="1129.1" cy="816.9" rx="3.2" ry="5.1"/>
<ellipse cx="1145.9" cy="853.9" rx="3.2" ry="5.1"/>
<ellipse cx="1162.7" cy="890.9" rx="3.2" ry="5.1"/>
<ellipse cx="1179.5" cy="927.9" rx="3.2" ry="5.1"/>
<ellipse cx="1196.3" cy="964.9" rx="3.2" ry="5.1"/>
<ellipse cx="1213.1" cy="1001.9" rx="3.2" ry="5.1"/>
<ellipse cx="1229.9" cy="1038.9" rx="3.2" ry="5.1"/>
<ellipse cx="1246.7" cy="1075.9" rx="3.2" ry="5.1"/>
<ellipse cx="1263.5" cy="1112.9" rx="3.2" ry="5.1"/>
<ellipse cx="1280.3" cy="1149.9" rx="3.2" ry="5.1"/>
<ellipse cx="1297.1" cy="1186.9" rx="3.2" ry="5.1"/>
<ellipse cx="1313.9" cy="1223.9" rx="3.2" ry="5.1"/>
<ellipse cx="1330.7" cy="1260.9" rx="3.2" ry="5.1"/>
<ellipse cx="1347.5" cy="1297.9" rx="3.2" ry="5.1"/>
<ellipse cx="1364.3" cy="1334.9" rx="3.2" ry="5.1"/>
<ellipse cx="1381.1" cy="1371.9" rx="3.2" ry="5.1"/>
<ellipse cx="1397.9" cy="1408.9" rx="3.2" ry="5.1"/>
<ellipse cx="1414.7" cy="1445.9" rx="3.2" ry="5.1"/>
<ellipse cx="799.3" cy="12.7" rx="3.6" ry="5.8"/>
<ellipse cx="816.1" cy="49.7" rx="3.6" ry="5.8"/>
<ellipse cx="832.9" cy="86.7" rx="3.6" ry="5.8"/>
<ellipse cx="849.7" cy="123.7" rx="3.6" ry="5.8"/>
<ellipse cx="866.5" cy="160.7" rx="3.6" ry="5.8"/>
<ellipse cx="883.3" cy="197.7" rx="3.6" ry="5.8"/>
<ellipse cx="900.1" cy="234.7" rx="3.6" ry="5.8"/>
<ellipse cx="916.9" cy="271.7" rx="3.6" ry="5.8"/>
<ellipse cx="933.7" cy="308.7" rx="3.6" ry="5.8"/>
<ellipse cx="950.5" cy="345.7" rx="3.6" ry="5.8"/>
<ellipse cx="967.3" cy="382.7" rx="3.6" ry="5.8"/>
<ellipse cx="984.1" cy="419.7" rx="3.6" ry="5.8"/>
<ellipse cx="1000.9" cy="456.7" rx="3.6" ry="5.8"/>
<ellipse cx="1017.7" cy="493.7" rx="3.6" ry="5.8"/>
<ellipse cx="1034.5" cy="530.7" rx="3.6" ry="5.8"/>
<ellipse cx="1051.3" cy="567.7" rx="3.6" ry="5.8"/>
<ellipse cx="1068.1" cy="604.7" rx="3.6" ry="5.8"/>
<ellipse cx="1084.9" cy="641.7" rx="3.6" ry="5.8"/>
<ellipse cx="1101.7" cy="678.7" rx="3.6" ry="5.8"/>
<ellipse cx="1118.5" cy="715.7" rx="3.6" ry="5.8"/>
<ellipse cx="1135.3" cy="752.7" rx="3.6" ry="5.8"/>
<ellipse cx="1152.1" cy="789.7" rx="3.6" ry="5.8"/>
<ellipse cx="1168.9" cy="826.7" rx="3.6" ry="5.8"/>
<ellipse cx="1185.7" cy="863.7" rx="3.6" ry="5.8"/>
<ellipse cx="1202.5" cy="900.7" rx="3.6" ry="5.8"/>
<ellipse cx="1219.3" cy="937.7" rx="3.6" ry="5.8"/>
<ellipse cx="1236.1" cy="974.7" rx="3.6" ry="5.8"/>
<ellipse cx="1252.9" cy="1011.7" rx="3.6" ry="5.8"/>
<ellipse cx="1269.7" cy="1048.7" rx="3.6" ry="5.8"/>
<ellipse cx="1286.5" cy="1085.7" rx="3.6" ry="5.8"/>
<ellipse cx="1303.3" cy="1122.7" rx="3.6" ry="5.8"/>
<ellipse cx="1320.1" cy="1159.7" rx="3.6" ry="5.8"/>
<ellipse cx="1336.9" cy="1196.7" rx="3.6" ry="5.8"/>
<ellipse cx="1353.7" cy="1233.7" rx="3.6" ry="5.8"/>
<ellipse cx="1370.5" cy="1270.7" rx="3.6" ry="5.8"/>
<ellipse cx="1387.3" cy="1307.7" rx="3.6" ry="5.8"/>
<ellipse cx="1404.1" cy="1344.7" rx="3.6" ry="5.8"/>
<ellipse cx="1420.9" cy="1381.7" rx="3.6" ry="5.8"/>
<ellipse cx="1437.7" cy="1418.7" rx="3.6" ry="5.8"/>
<ellipse cx="839.1" cy="22.5" rx="4.1" ry="6.5"/>
<ellipse cx="855.9" cy="59.5" rx="4.1" ry="6.5"/>
<ellipse cx="872.7" cy="96.5" rx="4.1" ry="6.5"/>
<ellipse cx="889.5" cy="133.5" rx="4.1" ry="6.5"/>
<ellipse cx="906.3" cy="170.5" rx="4.1" ry="6.5"/>
<ellipse cx="923.1" cy="207.5" rx="4.1" ry="6.5"/>
<ellipse cx="939.9" cy="244.5" rx="4.1" ry="6.5"/>
<ellipse cx="956.7" cy="281.5" rx="4.1" ry="6.5"/>
<ellipse cx="973.5" cy="318.5" rx="4.1" ry="6.5"/>
<ellipse cx="990.3" cy="355.5" rx="4.1" ry="6.5"/>
<ellipse cx="1007.1" cy="392.5" rx="4.1" ry="6.5"/>
<ellipse cx="1023.9" cy="429.5" rx="4.1" ry="6.5"/>
<ellipse cx="1040.7" cy="466.5" rx="4.1" ry="6.5"/>
<ellipse cx="1057.5" cy="503.5" rx="4.1" ry="6.5"/>
<ellipse cx="1074.3" cy="540.5" rx="4.1" ry="6.5"/>
<ellipse cx="1091.1" cy="577.5" rx="4.1" ry="6.5"/>
<ellipse cx="1107.9" cy="614.5" rx="4.1" ry="6.5"/>
<ellipse cx="1124.7" cy="651.5" rx="4.1" ry="6.5"/>
<ellipse cx="1141.5" cy="688.5" rx="4.1" ry="6.5"/>
<ellipse cx="1158.3" cy="725.5" rx="4.0" ry="6.5"/>
<ellipse cx="1175.1" cy="762.5" rx="4.0" ry="6.5"/>
<ellipse cx="1191.9" cy="799.5" rx="4.0" ry="6.5"/>
<ellipse cx="1208.7" cy="836.5" rx="4.0" ry="6.5"/>
<ellipse cx="1225.5" cy="873.5" rx="4.0" ry="6.5"/>
<ellipse cx="1242.3" cy="910.5" rx="4.0" ry="6.5"/>
<ellipse cx="1259.1" cy="947.5" rx="4.0" ry="6.5"/>
<ellipse cx="1275.9" cy="984.5" rx="4.0" ry="6.5"/>
<ellipse cx="1292.7" cy="1021.5" rx="4.0" ry="6.5"/>
<ellipse cx="1309.5" cy="1058.5" rx="4.0" ry="6.5"/>
<ellipse cx="1326.3" cy="1095.5" rx="4.0" ry="6.5"/>
<ellipse cx="1343.1" cy="1132.5" rx="4.0" ry="6.5"/>
<ellipse cx="1359.9" cy="1169.5" rx="4.0" ry="6.5"/>
<ellipse cx="1376.7" cy="1206.5" rx="4.0" ry="6.5"/>
<ellipse cx="1393.5" cy="1243.5" rx="4.0" ry="6.5"/>
<ellipse cx="1410.3" cy="1280.5" rx="4.0" ry="6.5"/>
<ellipse cx="1427.1" cy="1317.5" rx="4.0" ry="6.5"/>
<ellipse cx="1443.9" cy="1354.5" rx="4.0" ry="6.5"/>
<ellipse cx="862.2" cy="-4.6" rx="4.5" ry="7.2"/>
<ellipse cx="879.0" cy="32.4" rx="4.5" ry="7.2"/>
<ellipse cx="895.8" cy="69.4" rx="4.5" ry="7.2"/>
<ellipse cx="912.6" cy="106.4" rx="4.5" ry="7.2"/>
<ellipse cx="929.4" cy="143.4" rx="4.5" ry="7.2"/>
<ellipse cx="946.2" cy="180.4" rx="4.5" ry="7.2"/>
<ellipse cx="963.0" cy="217.4" rx="4.5" ry="7.2"/>
<ellipse cx="979.8" cy="254.4" rx="4.5" ry="7.2"/>
<ellipse cx="996.6" cy="291.4" rx="4.5" ry="7.2"/>
<ellipse cx="1013.4" cy="328.4" rx="4.5" ry="7.2"/>
<ellipse cx="1030.2" cy="365.4" rx="4.5" ry="7.2"/>
<ellipse cx="1047.0" cy="402.4" rx="4.5" ry="7.2"/>
<ellipse cx="1063.8" cy="439.4" rx="4.5" ry="7.2"/>
<ellipse cx="1080.6" cy="476.4" rx="4.5" ry="7.2"/>
<ellipse cx="1097.4" cy="513.4" rx="4.5" ry="7.2"/>
<ellipse cx="1114.2" cy="550.4" rx="4.5" ry="7.2"/>
<ellipse cx="1131.0" cy="587.4" rx="4.5" ry="7.2"/>
<ellipse cx="1147.8" cy="624.4" rx="4.5" ry="7.2"/>
<ellipse cx="1164.6" cy="661.4" rx="4.5" ry="7.2"/>
<ellipse cx="1181.4" cy="698.4" rx="4.5" ry="7.2"/>
<ellipse cx="1198.2" cy="735.4" rx="4.5" ry="7.2"/>
<ellipse cx="1215.0" cy="772.4" rx="4.5" ry="7.2"/>
<ellipse cx="1231.8" cy="809.4" rx="4.5" ry="7.2"/>
<ellipse cx="1248.6" cy="846.4" rx="4.5" ry="7.2"/>
<ellipse cx="1265.4" cy="883.4" rx="4.5" ry="7.2"/>
<ellipse cx="1282.2" cy="920.4" rx="4.5" ry="7.2"/>
<ellipse cx="1299.0" cy="957.4" rx="4.5" ry="7.2"/>
<ellipse cx="1315.8" cy="994.4" rx="4.5" ry="7.1"/>
<ellipse cx="1332.6" cy="1031.4" rx="4.5" ry="7.1"/>
<ellipse cx="1349.4" cy="1068.4" rx="4.5" ry="7.1"/>
<ellipse cx="1366.2" cy="1105.4" rx="4.5" ry="7.1"/>
<ellipse cx="1383.0" cy="1142.4" rx="4.5" ry="7.1"/>
<ellipse cx="1399.8" cy="1179.4" rx="4.5" ry="7.1"/>
<ellipse cx="1416.6" cy="1216.4" rx="4.5" ry="7.1"/>
<ellipse cx="1433.4" cy="1253.4" rx="4.5" ry="7.1"/>
<ellipse cx="1450.2" cy="1290.4" rx="4.5" ry="7.1"/>
<ellipse cx="902.0" cy="5.2" rx="4.9" ry="7.9"/>
<ellipse cx="918.8" cy="42.2" rx="4.9" ry="7.9"/>
<ellipse cx="935.6" cy="79.2" rx="4.9" ry="7.9"/>
<ellipse cx="952.4" cy="116.2" rx="4.9" ry="7.9"/>
<ellipse cx="969.2" cy="153.2" rx="4.9" ry="7.9"/>
<ellipse cx="986.0" cy="190.2" rx="4.9" ry="7.9"/>
<ellipse cx="1002.8" cy="227.2" rx="4.9" ry="7.9"/>
<ellipse cx="1019.6" cy="264.2" rx="4.9" ry="7.9"/>
<ellipse cx="1036.4" cy="301.2" rx="4.9" ry="7.9"/>
<ellipse cx="1053.2" cy="338.2" rx="4.9" ry="7.9"/>
<ellipse cx="1070.0" cy="375.2" rx="4.9" ry="7.9"/>
<ellipse cx="1086.8" cy="412.2" rx="4.9" ry="7.8"/>
<ellipse cx="1103.6" cy="449.2" rx="4.9" ry="7.8"/>
<ellipse cx="1120.4" cy="486.2" rx="4.9" ry="7.8"/>
<ellipse cx="1137.2" cy="523.2" rx="4.9" ry="7.8"/>
<ellipse cx="1154.0" cy="560.2" rx="4.9" ry="7.8"/>
<ellipse cx="1170.8" cy="597.2" rx="4.9" ry="7.8"/>
<ellipse cx="1187.6" cy="634.2" rx="4.9" ry="7.8"/>
<ellipse cx="1204.4" cy="671.2" rx="4.9" ry="7.8"/>
<ellipse cx="1221.2" cy="708.2" rx="4.9" ry="7.8"/>
<ellipse cx="1238.0" cy="745.2" rx="4.9" ry="7.8"/>
<ellipse cx="1254.8" cy="782.2" rx="4.9" ry="7.8"/>
<ellipse cx="1271.6" cy="819.2" rx="4.9" ry="7.8"/>
<ellipse cx="1288.4" cy="856.2" rx="4.9" ry="7.8"/>
<ellipse cx="1305.2" cy="893.2" rx="4.9" ry="7.8"/>
<ellipse cx="1322.0" cy="930.2" rx="4.9" ry="7.8"/>
<ellipse cx="1338.8" cy="967.2" rx="4.9" ry="7.8"/>
<ellipse cx="1355.6" cy="1004.2" rx="4.9" ry="7.8"/>
<ellipse cx="1372.4" cy="1041.2" rx="4.9" ry="7.8"/>
<ellipse cx="1389.2" cy="1078.2" rx="4.9" ry="7.8"/>
<ellipse cx="1406.0" cy="1115.2" rx="4.9" ry="7.8"/>
<ellipse cx="1422.8" cy="1152.2" rx="4.9" ry="7.8"/>
<ellipse cx="1439.6" cy="1189.2" rx="4.9" ry="7.8"/>
<ellipse cx="941.9" cy="15.1" rx="5.3" ry="8.5"/>
<ellipse cx="958.7" cy="52.1" rx="5.3" ry="8.5"/>
<ellipse cx="975.5" cy="89.1" rx="5.3" ry="8.5"/>
<ellipse cx="992.3" cy="126.1" rx="5.3" ry="8.5"/>
<ellipse cx="1009.1" cy="163.1" rx="5.3" ry="8.5"/>
<ellipse cx="1025.9" cy="200.1" rx="5.3" ry="8.5"/>
<ellipse cx="1042.7" cy="237.1" rx="5.3" ry="8.5"/>
<ellipse cx="1059.5" cy="274.1" rx="5.3" ry="8.5"/>
<ellipse cx="1076.3" cy="311.1" rx="5.3" ry="8.5"/>
<ellipse cx="1093.1" cy="348.1" rx="5.3" ry="8.5"/>
<ellipse cx="1109.9" cy="385.1" rx="5.3" ry="8.5"/>
<ellipse cx="1126.7" cy="422.1" rx="5.3" ry="8.5"/>
<ellipse cx="1143.5" cy="459.1" rx="5.3" ry="8.5"/>
<ellipse cx="1160.3" cy="496.1" rx="5.3" ry="8.5"/>
<ellipse cx="1177.1" cy="533.1" rx="5.3" ry="8.5"/>
<ellipse cx="1193.9" cy="570.1" rx="5.3" ry="8.5"/>
<ellipse cx="1210.7" cy="607.1" rx="5.3" ry="8.5"/>
<ellipse cx="1227.5" cy="644.1" rx="5.3" ry="8.5"/>
<ellipse cx="1244.3" cy="681.1" rx="5.3" ry="8.5"/>
<ellipse cx="1261.1" cy="718.1" rx="5.3" ry="8.5"/>
<ellipse cx="1277.9" cy="755.1" rx="5.3" ry="8.5"/>
<ellipse cx="1294.7" cy="792.1" rx="5.3" ry="8.5"/>
<ellipse cx="1311.5" cy="829.1" rx="5.3" ry="8.5"/>
<ellipse cx="1328.3" cy="866.1" rx="5.3" ry="8.5"/>
<ellipse cx="1345.1" cy="903.1" rx="5.3" ry="8.5"/>
<ellipse cx="1361.9" cy="940.1" rx="5.3" ry="8.5"/>
<ellipse cx="1378.7" cy="977.1" rx="5.3" ry="8.5"/>
<ellipse cx="1395.5" cy="1014.1" rx="5.3" ry="8.5"/>
<ellipse cx="1412.3" cy="1051.1" rx="5.3" ry="8.5"/>
<ellipse cx="1429.1" cy="1088.1" rx="5.3" ry="8.5"/>
<ellipse cx="1445.9" cy="1125.1" rx="5.3" ry="8.5"/>
<ellipse cx="964.9" cy="-12.1" rx="5.8" ry="9.2"/>
<ellipse cx="981.7" cy="24.9" rx="5.8" ry="9.2"/>
<ellipse cx="998.5" cy="61.9" rx="5.8" ry="9.2"/>
<ellipse cx="1015.3" cy="98.9" rx="5.8" ry="9.2"/>
<ellipse cx="1032.1" cy="135.9" rx="5.8" ry="9.2"/>
<ellipse cx="1048.9" cy="172.9" rx="5.8" ry="9.2"/>
<ellipse cx="1065.7" cy="209.9" rx="5.8" ry="9.2"/>
<ellipse cx="1082.5" cy="246.9" rx="5.8" ry="9.2"/>
<ellipse cx="1099.3" cy="283.9" rx="5.8" ry="9.2"/>
<ellipse cx="1116.1" cy="320.9" rx="5.8" ry="9.2"/>
<ellipse cx="1132.9" cy="357.9" rx="5.8" ry="9.2"/>
<ellipse cx="1149.7" cy="394.9" rx="5.8" ry="9.2"/>
<ellipse cx="1166.5" cy="431.9" rx="5.8" ry="9.2"/>
<ellipse cx="1183.3" cy="468.9" rx="5.8" ry="9.2"/>
<ellipse cx="1200.1" cy="505.9" rx="5.8" ry="9.2"/>
<ellipse cx="1216.9" cy="542.9" rx="5.8" ry="9.2"/>
<ellipse cx="1233.7" cy="579.9" rx="5.8" ry="9.2"/>
<ellipse cx="1250.5" cy="616.9" rx="5.8" ry="9.2"/>
<ellipse cx="1267.3" cy="653.9" rx="5.7" ry="9.2"/>
<ellipse cx="1284.1" cy="690.9" rx="5.7" ry="9.2"/>
<ellipse cx="1300.9" cy="727.9" rx="5.7" ry="9.2"/>
<ellipse cx="1317.7" cy="764.9" rx="5.7" ry="9.2"/>
<ellipse cx="1334.5" cy="801.9" rx="5.7" ry="9.2"/>
<ellipse cx="1351.3" cy="838.9" rx="5.7" ry="9.2"/>
<ellipse cx="1368.1" cy="875.9" rx="5.7" ry="9.2"/>
<ellipse cx="1384.9" cy="912.9" rx="5.7" ry="9.2"/>
<ellipse cx="1401.7" cy="949.9" rx="5.7" ry="9.2"/>
<ellipse cx="1418.5" cy="986.9" rx="5.7" ry="9.2"/>
<ellipse cx="1435.3" cy="1023.9" rx="5.7" ry="9.2"/>
<ellipse cx="1004.7" cy="-2.3" rx="6.2" ry="9.9"/>
<ellipse cx="1021.5" cy="34.7" rx="6.2" ry="9.9"/>
<ellipse cx="1038.3" cy="71.7" rx="6.2" ry="9.9"/>
<ellipse cx="1055.1" cy="108.7" rx="6.2" ry="9.9"/>
<ellipse cx="1071.9" cy="145.7" rx="6.2" ry="9.9"/>
<ellipse cx="1088.7" cy="182.7" rx="6.2" ry="9.9"/>
<ellipse cx="1105.5" cy="219.7" rx="6.2" ry="9.9"/>
<ellipse cx="1122.3" cy="256.7" rx="6.2" ry="9.9"/>
<ellipse cx="1139.1" cy="293.7" rx="6.2" ry="9.9"/>
<ellipse cx="1155.9" cy="330.7" rx="6.2" ry="9.9"/>
<ellipse cx="1172.7" cy="367.7" rx="6.2" ry="9.9"/>
<ellipse cx="1189.5" cy="404.7" rx="6.2" ry="9.9"/>
<ellipse cx="1206.3" cy="441.7" rx="6.2" ry="9.9"/>
<ellipse cx="1223.1" cy="478.7" rx="6.2" ry="9.9"/>
<ellipse cx="1239.9" cy="515.7" rx="6.2" ry="9.9"/>
<ellipse cx="1256.7" cy="552.7" rx="6.2" ry="9.9"/>
<ellipse cx="1273.5" cy="589.7" rx="6.2" ry="9.9"/>
<ellipse cx="1290.3" cy="626.7" rx="6.2" ry="9.9"/>
<ellipse cx="1307.1" cy="663.7" rx="6.2" ry="9.9"/>
<ellipse cx="1323.9" cy="700.7" rx="6.2" ry="9.9"/>
<ellipse cx="1340.7" cy="737.7" rx="6.2" ry="9.9"/>
<ellipse cx="1357.5" cy="774.7" rx="6.2" ry="9.9"/>
<ellipse cx="1374.3" cy="811.7" rx="6.2" ry="9.9"/>
<ellipse cx="1391.1" cy="848.7" rx="6.2" ry="9.9"/>
<ellipse cx="1407.9" cy="885.7" rx="6.2" ry="9.9"/>
<ellipse cx="1424.7" cy="922.7" rx="6.2" ry="9.9"/>
<ellipse cx="1441.5" cy="959.7" rx="6.2" ry="9.9"/>
<ellipse cx="1044.6" cy="7.6" rx="6.6" ry="10.6"/>
<ellipse cx="1061.4" cy="44.6" rx="6.6" ry="10.6"/>
<ellipse cx="1078.2" cy="81.6" rx="6.6" ry="10.6"/>
<ellipse cx="1095.0" cy="118.6" rx="6.6" ry="10.6"/>
<ellipse cx="1111.8" cy="155.6" rx="6.6" ry="10.6"/>
<ellipse cx="1128.6" cy="192.6" rx="6.6" ry="10.6"/>
<ellipse cx="1145.4" cy="229.6" rx="6.6" ry="10.6"/>
<ellipse cx="1162.2" cy="266.6" rx="6.6" ry="10.6"/>
<ellipse cx="1179.0" cy="303.6" rx="6.6" ry="10.6"/>
<ellipse cx="1195.8" cy="340.6" rx="6.6" ry="10.6"/>
<ellipse cx="1212.6" cy="377.6" rx="6.6" ry="10.6"/>
<ellipse cx="1229.4" cy="414.6" rx="6.6" ry="10.6"/>
<ellipse cx="1246.2" cy="451.6" rx="6.6" ry="10.6"/>
<ellipse cx="1263.0" cy="488.6" rx="6.6" ry="10.6"/>
<ellipse cx="1279.8" cy="525.6" rx="6.6" ry="10.6"/>
<ellipse cx="1296.6" cy="562.6" rx="6.6" ry="10.6"/>
<ellipse cx="1313.4" cy="599.6" rx="6.6" ry="10.6"/>
<ellipse cx="1330.2" cy="636.6" rx="6.6" ry="10.6"/>
<ellipse cx="1347.0" cy="673.6" rx="6.6" ry="10.6"/>
<ellipse cx="1363.8" cy="710.6" rx="6.6" ry="10.6"/>
<ellipse cx="1380.6" cy="747.6" rx="6.6" ry="10.6"/>
<ellipse cx="1397.4" cy="784.6" rx="6.6" ry="10.6"/>
<ellipse cx="1414.2" cy="821.6" rx="6.6" ry="10.6"/>
<ellipse cx="1431.0" cy="858.6" rx="6.6" ry="10.5"/>
<ellipse cx="1447.8" cy="895.6" rx="6.6" ry="10.5"/>
<ellipse cx="1084.4" cy="17.4" rx="7.0" ry="11.3"/>
<ellipse cx="1101.2" cy="54.4" rx="7.0" ry="11.3"/>
<ellipse cx="1118.0" cy="91.4" rx="7.0" ry="11.3"/>
<ellipse cx="1134.8" cy="128.4" rx="7.0" ry="11.3"/>
<ellipse cx="1151.6" cy="165.4" rx="7.0" ry="11.3"/>
<ellipse cx="1168.4" cy="202.4" rx="7.0" ry="11.3"/>
<ellipse cx="1185.2" cy="239.4" rx="7.0" ry="11.3"/>
<ellipse cx="1202.0" cy="276.4" rx="7.0" ry="11.3"/>
<ellipse cx="1218.8" cy="313.4" rx="7.0" ry="11.2"/>
<ellipse cx="1235.6" cy="350.4" rx="7.0" ry="11.2"/>
<ellipse cx="1252.4" cy="387.4" rx="7.0" ry="11.2"/>
<ellipse cx="1269.2" cy="424.4" rx="7.0" ry="11.2"/>
<ellipse cx="1286.0" cy="461.4" rx="7.0" ry="11.2"/>
<ellipse cx="1302.8" cy="498.4" rx="7.0" ry="11.2"/>
<ellipse cx="1319.6" cy="535.4" rx="7.0" ry="11.2"/>
<ellipse cx="1336.4" cy="572.4" rx="7.0" ry="11.2"/>
<ellipse cx="1353.2" cy="609.4" rx="7.0" ry="11.2"/>
<ellipse cx="1370.0" cy="646.4" rx="7.0" ry="11.2"/>
<ellipse cx="1386.8" cy="683.4" rx="7.0" ry="11.2"/>
<ellipse cx="1403.6" cy="720.4" rx="7.0" ry="11.2"/>
<ellipse cx="1420.4" cy="757.4" rx="7.0" ry="11.2"/>
<ellipse cx="1437.2" cy="794.4" rx="7.0" ry="11.2"/>
<ellipse cx="1107.5" cy="-9.7" rx="7.5" ry="11.9"/>
<ellipse cx="1124.3" cy="27.3" rx="7.5" ry="11.9"/>
<ellipse cx="1141.1" cy="64.3" rx="7.5" ry="11.9"/>
<ellipse cx="1157.9" cy="101.3" rx="7.5" ry="11.9"/>
<ellipse cx="1174.7" cy="138.3" rx="7.5" ry="11.9"/>
<ellipse cx="1191.5" cy="175.3" rx="7.5" ry="11.9"/>
<ellipse cx="1208.3" cy="212.3" rx="7.5" ry="11.9"/>
<ellipse cx="1225.1" cy="249.3" rx="7.5" ry="11.9"/>
<ellipse cx="1241.9" cy="286.3" rx="7.5" ry="11.9"/>
<ellipse cx="1258.7" cy="323.3" rx="7.5" ry="11.9"/>
<ellipse cx="1275.5" cy="360.3" rx="7.5" ry="11.9"/>
<ellipse cx="1292.3" cy="397.3" rx="7.5" ry="11.9"/>
<ellipse cx="1309.1" cy="434.3" rx="7.5" ry="11.9"/>
<ellipse cx="1325.9" cy="471.3" rx="7.5" ry="11.9"/>
<ellipse cx="1342.7" cy="508.3" rx="7.5" ry="11.9"/>
<ellipse cx="1359.5" cy="545.3" rx="7.4" ry="11.9"/>
<ellipse cx="1376.3" cy="582.3" rx="7.4" ry="11.9"/>
<ellipse cx="1393.1" cy="619.3" rx="7.4" ry="11.9"/>
<ellipse cx="1409.9" cy="656.3" rx="7.4" ry="11.9"/>
<ellipse cx="1426.7" cy="693.3" rx="7.4" ry="11.9"/>
<ellipse cx="1443.5" cy="730.3" rx="7.4" ry="11.9"/>
<ellipse cx="1147.3" cy="0.1" rx="7.9" ry="12.6"/>
<ellipse cx="1164.1" cy="37.1" rx="7.9" ry="12.6"/>
<ellipse cx="1180.9" cy="74.1" rx="7.9" ry="12.6"/>
<ellipse cx="1197.7" cy="111.1" rx="7.9" ry="12.6"/>
<ellipse cx="1214.5" cy="148.1" rx="7.9" ry="12.6"/>
<ellipse cx="1231.3" cy="185.1" rx="7.9" ry="12.6"/>
<ellipse cx="1248.1" cy="222.1" rx="7.9" ry="12.6"/>
<ellipse cx="1264.9" cy="259.1" rx="7.9" ry="12.6"/>
<ellipse cx="1281.7" cy="296.1" rx="7.9" ry="12.6"/>
<ellipse cx="1298.5" cy="333.1" rx="7.9" ry="12.6"/>
<ellipse cx="1315.3" cy="370.1" rx="7.9" ry="12.6"/>
<ellipse cx="1332.1" cy="407.1" rx="7.9" ry="12.6"/>
<ellipse cx="1348.9" cy="444.1" rx="7.9" ry="12.6"/>
<ellipse cx="1365.7" cy="481.1" rx="7.9" ry="12.6"/>
<ellipse cx="1382.5" cy="518.1" rx="7.9" ry="12.6"/>
<ellipse cx="1399.3" cy="555.1" rx="7.9" ry="12.6"/>
<ellipse cx="1416.1" cy="592.1" rx="7.9" ry="12.6"/>
<ellipse cx="1432.9" cy="629.1" rx="7.9" ry="12.6"/>
<ellipse cx="1449.7" cy="666.1" rx="7.9" ry="12.6"/>
<ellipse cx="1187.1" cy="9.9" rx="8.3" ry="13.3"/>
<ellipse cx="1203.9" cy="46.9" rx="8.3" ry="13.3"/>
<ellipse cx="1220.7" cy="83.9" rx="8.3" ry="13.3"/>
<ellipse cx="1237.5" cy="120.9" rx="8.3" ry="13.3"/>
<ellipse cx="1254.3" cy="157.9" rx="8.3" ry="13.3"/>
<ellipse cx="1271.1" cy="194.9" rx="8.3" ry="13.3"/>
<ellipse cx="1287.9" cy="231.9" rx="8.3" ry="13.3"/>
<ellipse cx="1304.7" cy="268.9" rx="8.3" ry="13.3"/>
<ellipse cx="1321.5" cy="305.9" rx="8.3" ry="13.3"/>
<ellipse cx="1338.3" cy="342.9" rx="8.3" ry="13.3"/>
<ellipse cx="1355.1" cy="379.9" rx="8.3" ry="13.3"/>
<ellipse cx="1371.9" cy="416.9" rx="8.3" ry="13.3"/>
<ellipse cx="1388.7" cy="453.9" rx="8.3" ry="13.3"/>
<ellipse cx="1405.5" cy="490.9" rx="8.3" ry="13.3"/>
<ellipse cx="1422.3" cy="527.9" rx="8.3" ry="13.3"/>
<ellipse cx="1439.1" cy="564.9" rx="8.3" ry="13.3"/>
</g>
<polygon points="0,1265 79,1440 0,1440" fill="url(#bl)"/>
<rect x="221" y="410" width="953.5" height="896" fill="#eeeeee" opacity="0.25"/>
<rect x="221" y="262" width="953.5" height="148.5" fill="url(#gold)"/>
<rect x="221" y="1305" width="953.5" height="75" fill="url(#blue)"/>
<rect x="634.0" y="1306" width="1.6" height="74" fill="#00306f" opacity="0.55"/>
<rect x="827.0" y="1306" width="1.6" height="74" fill="#00306f" opacity="0.55"/>
<rect x="1003.6" y="1306" width="1.6" height="74" fill="#00306f" opacity="0.55"/>
<g fill="#33426f">
<rect x="219.5" y="259.5" width="956.5" height="5.0"/>
<rect x="219.5" y="329.9" width="956.5" height="3.4"/>
<rect x="635.0" y="375.4" width="541.0" height="3.4"/>
<rect x="219.5" y="409.2" width="956.5" height="2.8"/>
<rect x="219.5" y="466.3" width="956.5" height="2.8"/>
<rect x="219.5" y="520.8" width="956.5" height="2.8"/>
<rect x="219.5" y="572.3" width="956.5" height="2.8"/>
<rect x="219.5" y="622.9" width="956.5" height="2.8"/>
<rect x="219.5" y="671.8" width="956.5" height="2.8"/>
<rect x="219.5" y="715.3" width="956.5" height="2.8"/>
<rect x="219.5" y="763.2" width="956.5" height="2.8"/>
<rect x="219.5" y="810.1" width="956.5" height="2.8"/>
<rect x="219.5" y="859.0" width="956.5" height="2.8"/>
<rect x="219.5" y="912.8" width="956.5" height="2.8"/>
<rect x="219.5" y="963.6" width="956.5" height="2.8"/>
<rect x="219.5" y="1013.6" width="956.5" height="2.8"/>
<rect x="219.5" y="1072.6" width="956.5" height="2.8"/>
<rect x="219.5" y="1131.9" width="956.5" height="2.8"/>
<rect x="219.5" y="1183.2" width="956.5" height="2.8"/>
<rect x="219.5" y="1245.3" width="956.5" height="2.8"/>
<rect x="219.5" y="1379.5" width="956.5" height="2.2"/>
<rect x="219.5" y="259.5" width="3.5" height="1122"/>
<rect x="1173" y="259.5" width="3.2" height="1122"/>
<rect x="634.0" y="331" width="3.0" height="975"/>
<rect x="827.0" y="331" width="2.7" height="975"/>
<rect x="1003.6" y="331" width="3.2" height="975"/>
</g>
<text x="276.5" y="188.8" text-anchor="start" class="t" textLength="186.0" lengthAdjust="spacingAndGlyphs" style="font-size:51.5px;fill:#324d88">VAKANT</text>
<text x="478.0" y="188.8" text-anchor="start" class="t" textLength="233.5" lengthAdjust="spacingAndGlyphs" style="font-size:51.5px;fill:#324d88">YERLƏRLƏ</text>
<text x="730.7" y="188.8" text-anchor="start" class="t" textLength="134.1" lengthAdjust="spacingAndGlyphs" style="font-size:51.5px;fill:#324d88">BAĞLI</text>
<text x="880.7" y="188.8" text-anchor="start" class="t" textLength="242.5" lengthAdjust="spacingAndGlyphs" style="font-size:51.5px;fill:#324d88">STATİSTİKA</text>
<text x="1301.0" y="65.9" text-anchor="middle" class="l" textLength="173.0" lengthAdjust="spacingAndGlyphs" style="font-size:17.5px;fill:#0f4c81">İNSAN RESURSLARI</text>
<text x="1301.0" y="86.5" text-anchor="middle" class="l" textLength="85.6" lengthAdjust="spacingAndGlyphs" style="font-size:17.5px;fill:#0f4c81">MƏRKƏZİ</text>
<text x="705.6" y="308.0" text-anchor="middle" class="w" textLength="281.0" lengthAdjust="spacingAndGlyphs" style="font-size:26px">AZƏRBAYCAN BÖLMƏSİ</text>
<text x="428.8" y="382.0" text-anchor="middle" class="w" textLength="59.0" lengthAdjust="spacingAndGlyphs" style="font-size:21.5px">FƏNN</text>
<text x="730.0" y="363.8" text-anchor="middle" class="w" textLength="47.5" lengthAdjust="spacingAndGlyphs" style="font-size:21.5px">2023</text>
<text x="916.5" y="364.5" text-anchor="middle" class="w" textLength="47.0" lengthAdjust="spacingAndGlyphs" style="font-size:21.5px">2023</text>
<text x="1089.6" y="364.5" text-anchor="middle" class="w" textLength="47.0" lengthAdjust="spacingAndGlyphs" style="font-size:21.5px">2022</text>
<text x="733.0" y="398.8" text-anchor="middle" class="w it" textLength="136.0" lengthAdjust="spacingAndGlyphs" style="font-size:16px">Namizədlərin sayı</text>
<text x="916.0" y="399.5" text-anchor="middle" class="w it" textLength="160.0" lengthAdjust="spacingAndGlyphs" style="font-size:16px">Cəmi vakant yer sayı</text>
<text x="1091.0" y="400.5" text-anchor="middle" class="w it" textLength="152.0" lengthAdjust="spacingAndGlyphs" style="font-size:15.5px">Cəmi vakant yer sayı</text>
<text x="429.0" y="449.6" text-anchor="middle" class="s" textLength="115.2" lengthAdjust="spacingAndGlyphs">Alman dili</text>
<text x="432.8" y="505.6" text-anchor="middle" class="s" textLength="331.4" lengthAdjust="spacingAndGlyphs">Azərbaycan dili və ədəbiyyat</text>
<text x="422.0" y="556.0" text-anchor="middle" class="s" textLength="107.1" lengthAdjust="spacingAndGlyphs">Biologiya</text>
<text x="422.4" y="606.5" text-anchor="middle" class="s" textLength="114.2" lengthAdjust="spacingAndGlyphs">Coğrafiya</text>
<text x="422.4" y="656.7" text-anchor="middle" class="s" textLength="64.4" lengthAdjust="spacingAndGlyphs">Fizika</text>
<text x="419.0" y="703.3" text-anchor="middle" class="s" textLength="140.6" lengthAdjust="spacingAndGlyphs">Fiziki tərbiyə</text>
<text x="419.5" y="748.0" text-anchor="middle" class="s" textLength="116.2" lengthAdjust="spacingAndGlyphs">Fransız dili</text>
<text x="419.2" y="798.0" text-anchor="middle" class="s" textLength="123.3" lengthAdjust="spacingAndGlyphs">İbtidai sinif</text>
<text x="419.5" y="844.3" text-anchor="middle" class="s" textLength="132.4" lengthAdjust="spacingAndGlyphs">İnformatika</text>
<text x="416.4" y="896.2" text-anchor="middle" class="s" textLength="106.0" lengthAdjust="spacingAndGlyphs">İngilis dili</text>
<text x="415.0" y="947.3" text-anchor="middle" class="s" textLength="71.9" lengthAdjust="spacingAndGlyphs">Kimya</text>
<text x="414.7" y="997.4" text-anchor="middle" class="s" textLength="74.0" lengthAdjust="spacingAndGlyphs">Musiqi</text>
<text x="413.7" y="1053.0" text-anchor="middle" class="s" textLength="116.2" lengthAdjust="spacingAndGlyphs">Riyaziyyat</text>
<text x="412.0" y="1112.6" text-anchor="middle" class="s" textLength="79.4" lengthAdjust="spacingAndGlyphs">Rus dili</text>
<text x="411.3" y="1166.0" text-anchor="middle" class="s" textLength="52.7" lengthAdjust="spacingAndGlyphs">Tarix</text>
<text x="411.3" y="1223.5" text-anchor="middle" class="s" textLength="188.8" lengthAdjust="spacingAndGlyphs">Təsviri incəsənət</text>
<text x="411.0" y="1284.7" text-anchor="middle" class="s" textLength="139.5" lengthAdjust="spacingAndGlyphs">Texnologiya</text>
<text x="726.0" y="452.0" text-anchor="middle" class="n" textLength="25.5" lengthAdjust="spacingAndGlyphs">53</text>
<text x="726.0" y="505.7" text-anchor="middle" class="n" textLength="50.5" lengthAdjust="spacingAndGlyphs">2361</text>
<text x="726.7" y="556.3" text-anchor="middle" class="n" textLength="38.5" lengthAdjust="spacingAndGlyphs">728</text>
<text x="726.0" y="606.7" text-anchor="middle" class="n" textLength="38.5" lengthAdjust="spacingAndGlyphs">989</text>
<text x="726.0" y="657.8" text-anchor="middle" class="n" textLength="38.5" lengthAdjust="spacingAndGlyphs">694</text>
<text x="725.6" y="704.8" text-anchor="middle" class="n" textLength="50.5" lengthAdjust="spacingAndGlyphs">1049</text>
<text x="724.0" y="751.3" text-anchor="middle" class="n" textLength="38.5" lengthAdjust="spacingAndGlyphs">155</text>
<text x="723.5" y="798.3" text-anchor="middle" class="n" textLength="50.5" lengthAdjust="spacingAndGlyphs">4514</text>
<text x="726.0" y="845.3" text-anchor="middle" class="n" textLength="50.5" lengthAdjust="spacingAndGlyphs">1527</text>
<text x="724.0" y="897.3" text-anchor="middle" class="n" textLength="50.5" lengthAdjust="spacingAndGlyphs">1066</text>
<text x="723.9" y="952.0" text-anchor="middle" class="n" textLength="38.5" lengthAdjust="spacingAndGlyphs">800</text>
<text x="723.5" y="1001.3" text-anchor="middle" class="n" textLength="50.5" lengthAdjust="spacingAndGlyphs">1407</text>
<text x="723.9" y="1057.3" text-anchor="middle" class="n" textLength="38.5" lengthAdjust="spacingAndGlyphs">849</text>
<text x="723.5" y="1113.3" text-anchor="middle" class="n" textLength="38.5" lengthAdjust="spacingAndGlyphs">465</text>
<text x="724.0" y="1170.3" text-anchor="middle" class="n" textLength="50.5" lengthAdjust="spacingAndGlyphs">1635</text>
<text x="724.0" y="1223.3" text-anchor="middle" class="n" textLength="50.5" lengthAdjust="spacingAndGlyphs">1529</text>
<text x="724.6" y="1286.3" text-anchor="middle" class="n" textLength="38.5" lengthAdjust="spacingAndGlyphs">606</text>
<text x="912.0" y="450.8" text-anchor="middle" class="n" textLength="25.5" lengthAdjust="spacingAndGlyphs">11</text>
<text x="915.4" y="503.8" text-anchor="middle" class="n" textLength="38.5" lengthAdjust="spacingAndGlyphs">546</text>
<text x="913.3" y="556.3" text-anchor="middle" class="n" textLength="38.5" lengthAdjust="spacingAndGlyphs">417</text>
<text x="912.6" y="607.3" text-anchor="middle" class="n" textLength="38.5" lengthAdjust="spacingAndGlyphs">308</text>
<text x="912.9" y="657.3" text-anchor="middle" class="n" textLength="38.5" lengthAdjust="spacingAndGlyphs">358</text>
<text x="913.4" y="705.3" text-anchor="middle" class="n" textLength="38.5" lengthAdjust="spacingAndGlyphs">380</text>
<text x="915.0" y="749.3" text-anchor="middle" class="n" textLength="25.5" lengthAdjust="spacingAndGlyphs">20</text>
<text x="915.0" y="797.3" text-anchor="middle" class="n" textLength="38.5" lengthAdjust="spacingAndGlyphs">310</text>
<text x="915.0" y="845.8" text-anchor="middle" class="n" textLength="38.5" lengthAdjust="spacingAndGlyphs">515</text>
<text x="915.4" y="897.3" text-anchor="middle" class="n" textLength="38.5" lengthAdjust="spacingAndGlyphs">721</text>
<text x="915.0" y="950.3" text-anchor="middle" class="n" textLength="38.5" lengthAdjust="spacingAndGlyphs">772</text>
<text x="916.0" y="1000.3" text-anchor="middle" class="n" textLength="50.5" lengthAdjust="spacingAndGlyphs">1500</text>
<text x="915.0" y="1055.3" text-anchor="middle" class="n" textLength="38.5" lengthAdjust="spacingAndGlyphs">740</text>
<text x="915.4" y="1116.3" text-anchor="middle" class="n" textLength="38.5" lengthAdjust="spacingAndGlyphs">925</text>
<text x="915.4" y="1170.3" text-anchor="middle" class="n" textLength="38.5" lengthAdjust="spacingAndGlyphs">284</text>
<text x="914.0" y="1222.3" text-anchor="middle" class="n" textLength="38.5" lengthAdjust="spacingAndGlyphs">837</text>
<text x="914.8" y="1287.3" text-anchor="middle" class="n" textLength="38.5" lengthAdjust="spacingAndGlyphs">216</text>
<text x="1085.6" y="452.1" text-anchor="middle" class="n" textLength="25.5" lengthAdjust="spacingAndGlyphs">10</text>
<text x="1088.0" y="505.3" text-anchor="middle" class="n" textLength="38.5" lengthAdjust="spacingAndGlyphs">362</text>
<text x="1088.0" y="558.8" text-anchor="middle" class="n" textLength="38.5" lengthAdjust="spacingAndGlyphs">386</text>
<text x="1087.0" y="608.8" text-anchor="middle" class="n" textLength="38.5" lengthAdjust="spacingAndGlyphs">234</text>
<text x="1086.9" y="660.3" text-anchor="middle" class="n" textLength="38.5" lengthAdjust="spacingAndGlyphs">312</text>
<text x="1084.6" y="706.3" text-anchor="middle" class="n" textLength="38.5" lengthAdjust="spacingAndGlyphs">355</text>
<text x="1084.0" y="753.3" text-anchor="middle" class="n" textLength="25.5" lengthAdjust="spacingAndGlyphs">21</text>
<text x="1085.0" y="802.3" text-anchor="middle" class="n" textLength="38.5" lengthAdjust="spacingAndGlyphs">249</text>
<text x="1085.0" y="848.3" text-anchor="middle" class="n" textLength="38.5" lengthAdjust="spacingAndGlyphs">487</text>
<text x="1084.4" y="900.3" text-anchor="middle" class="n" textLength="38.5" lengthAdjust="spacingAndGlyphs">626</text>
<text x="1085.0" y="952.3" text-anchor="middle" class="n" textLength="38.5" lengthAdjust="spacingAndGlyphs">764</text>
<text x="1084.8" y="1002.3" text-anchor="middle" class="n" textLength="50.5" lengthAdjust="spacingAndGlyphs">1857</text>
<text x="1085.0" y="1058.3" text-anchor="middle" class="n" textLength="38.5" lengthAdjust="spacingAndGlyphs">474</text>
<text x="1086.0" y="1116.3" text-anchor="middle" class="n" textLength="38.5" lengthAdjust="spacingAndGlyphs">987</text>
<text x="1086.9" y="1171.3" text-anchor="middle" class="n" textLength="38.5" lengthAdjust="spacingAndGlyphs">217</text>
<text x="1087.0" y="1223.8" text-anchor="middle" class="n" textLength="50.5" lengthAdjust="spacingAndGlyphs">1055</text>
<text x="1088.0" y="1287.3" text-anchor="middle" class="n" textLength="38.5" lengthAdjust="spacingAndGlyphs">316</text>
<text x="411.4" y="1352.4" text-anchor="middle" class="w" textLength="103.5" lengthAdjust="spacingAndGlyphs" style="font-size:28px">TOPLAM</text>
<text x="726.0" y="1353.3" text-anchor="middle" class="w" textLength="75.0" lengthAdjust="spacingAndGlyphs" style="font-size:30.5px">20427</text>
<text x="915.3" y="1353.0" text-anchor="middle" class="w" textLength="61.0" lengthAdjust="spacingAndGlyphs" style="font-size:30.5px">8860</text>
<text x="1090.0" y="1353.0" text-anchor="middle" class="w" textLength="60.5" lengthAdjust="spacingAndGlyphs" style="font-size:30.5px">8712</text>
<g transform="translate(969.5 444.2)"><ellipse rx="13.6" ry="13" fill="#0db00d"/><path d="M0 8.6V-8.2M-7.8 -0.8L0 -8.6L7.8 -0.8" fill="none" stroke="#f4fff0" stroke-width="3.1" stroke-linecap="round" stroke-linejoin="round"/></g>
<g transform="translate(969.5 495.0)"><ellipse rx="13.6" ry="13" fill="#0db00d"/><path d="M0 8.6V-8.2M-7.8 -0.8L0 -8.6L7.8 -0.8" fill="none" stroke="#f4fff0" stroke-width="3.1" stroke-linecap="round" stroke-linejoin="round"/></g>
<g transform="translate(969.5 548.7)"><ellipse rx="13.6" ry="13" fill="#0db00d"/><path d="M0 8.6V-8.2M-7.8 -0.8L0 -8.6L7.8 -0.8" fill="none" stroke="#f4fff0" stroke-width="3.1" stroke-linecap="round" stroke-linejoin="round"/></g>
<g transform="translate(969.5 599.0)"><ellipse rx="13.6" ry="13" fill="#0db00d"/><path d="M0 8.6V-8.2M-7.8 -0.8L0 -8.6L7.8 -0.8" fill="none" stroke="#f4fff0" stroke-width="3.1" stroke-linecap="round" stroke-linejoin="round"/></g>
<g transform="translate(969.5 647.5)"><ellipse rx="13.6" ry="13" fill="#0db00d"/><path d="M0 8.6V-8.2M-7.8 -0.8L0 -8.6L7.8 -0.8" fill="none" stroke="#f4fff0" stroke-width="3.1" stroke-linecap="round" stroke-linejoin="round"/></g>
<g transform="translate(969.5 695.5)"><ellipse rx="13.6" ry="13" fill="#0db00d"/><path d="M0 8.6V-8.2M-7.8 -0.8L0 -8.6L7.8 -0.8" fill="none" stroke="#f4fff0" stroke-width="3.1" stroke-linecap="round" stroke-linejoin="round"/></g>
<g transform="translate(969.3 788.0)"><ellipse rx="13.6" ry="13" fill="#0db00d"/><path d="M0 8.6V-8.2M-7.8 -0.8L0 -8.6L7.8 -0.8" fill="none" stroke="#f4fff0" stroke-width="3.1" stroke-linecap="round" stroke-linejoin="round"/></g>
<g transform="translate(969.3 835.5)"><ellipse rx="13.6" ry="13" fill="#0db00d"/><path d="M0 8.6V-8.2M-7.8 -0.8L0 -8.6L7.8 -0.8" fill="none" stroke="#f4fff0" stroke-width="3.1" stroke-linecap="round" stroke-linejoin="round"/></g>
<g transform="translate(969.3 887.5)"><ellipse rx="13.6" ry="13" fill="#0db00d"/><path d="M0 8.6V-8.2M-7.8 -0.8L0 -8.6L7.8 -0.8" fill="none" stroke="#f4fff0" stroke-width="3.1" stroke-linecap="round" stroke-linejoin="round"/></g>
<g transform="translate(968.3 941.0)"><ellipse rx="13.6" ry="13" fill="#0db00d"/><path d="M0 8.6V-8.2M-7.8 -0.8L0 -8.6L7.8 -0.8" fill="none" stroke="#f4fff0" stroke-width="3.1" stroke-linecap="round" stroke-linejoin="round"/></g>
<g transform="translate(968.3 1047.5)"><ellipse rx="13.6" ry="13" fill="#0db00d"/><path d="M0 8.6V-8.2M-7.8 -0.8L0 -8.6L7.8 -0.8" fill="none" stroke="#f4fff0" stroke-width="3.1" stroke-linecap="round" stroke-linejoin="round"/></g>
<g transform="translate(969.3 1161.0)"><ellipse rx="13.6" ry="13" fill="#0db00d"/><path d="M0 8.6V-8.2M-7.8 -0.8L0 -8.6L7.8 -0.8" fill="none" stroke="#f4fff0" stroke-width="3.1" stroke-linecap="round" stroke-linejoin="round"/></g>
</svg></body></html>
